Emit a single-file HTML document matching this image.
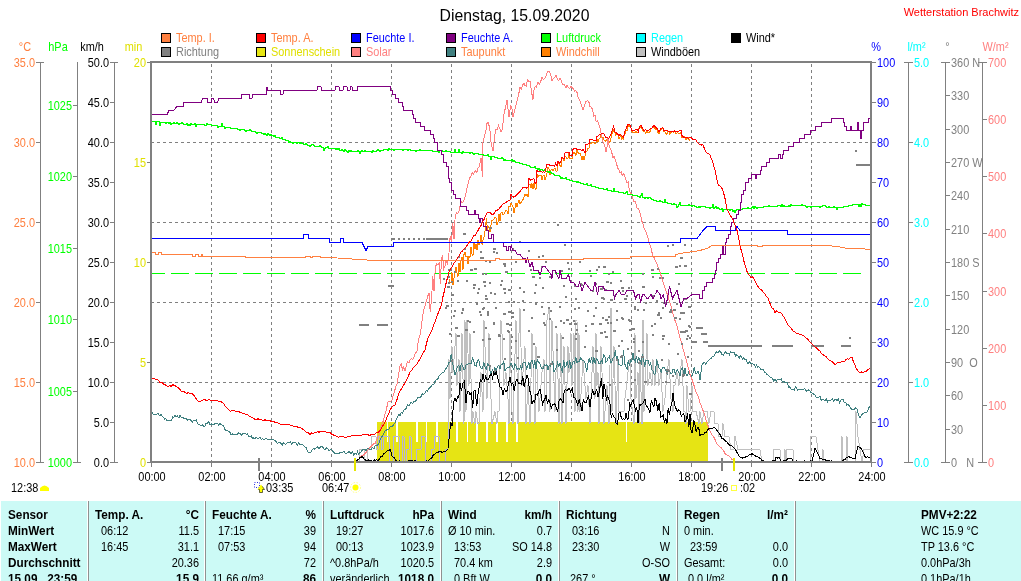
<!DOCTYPE html>
<html><head><meta charset="utf-8"><title>Dienstag, 15.09.2020</title>
<style>html,body{margin:0;padding:0;background:#fff;overflow:hidden}svg{display:block}text{white-space:pre}</style>
</head><body>
<svg width="1021" height="581" viewBox="0 0 1021 581" font-family='"Liberation Sans", Arial, sans-serif'>
<rect x="0" y="0" width="1021" height="581" fill="#FFFFFF"/>
<text transform="translate(514.5 21) scale(0.985 1)" text-anchor="middle" font-size="16" fill="#000">Dienstag, 15.09.2020</text>
<text transform="translate(1019 16) scale(1.0 1)" text-anchor="end" font-size="11" fill="#FF0000">Wetterstation Brachwitz</text>
<rect x="161" y="33" width="10" height="10" fill="#000"/>
<rect x="162" y="34" width="8" height="8" fill="#FF8040"/>
<text transform="translate(176 42) scale(0.91 1)" text-anchor="start" font-size="12" fill="#FF8040">Temp. I.</text>
<rect x="256" y="33" width="10" height="10" fill="#000"/>
<rect x="257" y="34" width="8" height="8" fill="#FF0000"/>
<text transform="translate(271 42) scale(0.91 1)" text-anchor="start" font-size="12" fill="#FF8040">Temp. A.</text>
<rect x="351" y="33" width="10" height="10" fill="#000"/>
<rect x="352" y="34" width="8" height="8" fill="#0000FF"/>
<text transform="translate(366 42) scale(0.91 1)" text-anchor="start" font-size="12" fill="#0000FF">Feuchte I.</text>
<rect x="446" y="33" width="10" height="10" fill="#000"/>
<rect x="447" y="34" width="8" height="8" fill="#800080"/>
<text transform="translate(461 42) scale(0.91 1)" text-anchor="start" font-size="12" fill="#0000FF">Feuchte A.</text>
<rect x="541" y="33" width="10" height="10" fill="#000"/>
<rect x="542" y="34" width="8" height="8" fill="#00FF00"/>
<text transform="translate(556 42) scale(0.91 1)" text-anchor="start" font-size="12" fill="#00FF00">Luftdruck</text>
<rect x="636" y="33" width="10" height="10" fill="#000"/>
<rect x="637" y="34" width="8" height="8" fill="#00FFFF"/>
<text transform="translate(651 42) scale(0.91 1)" text-anchor="start" font-size="12" fill="#00FFFF">Regen</text>
<rect x="731" y="33" width="10" height="10" fill="#000"/>
<rect x="732" y="34" width="8" height="8" fill="#000000"/>
<text transform="translate(746 42) scale(0.91 1)" text-anchor="start" font-size="12" fill="#000">Wind*</text>
<rect x="161" y="47" width="10" height="10" fill="#000"/>
<rect x="162" y="48" width="8" height="8" fill="#808080"/>
<text transform="translate(176 56) scale(0.91 1)" text-anchor="start" font-size="12" fill="#808080">Richtung</text>
<rect x="256" y="47" width="10" height="10" fill="#000"/>
<rect x="257" y="48" width="8" height="8" fill="#E6E614"/>
<text transform="translate(271 56) scale(0.91 1)" text-anchor="start" font-size="12" fill="#E0E000">Sonnenschein</text>
<rect x="351" y="47" width="10" height="10" fill="#000"/>
<rect x="352" y="48" width="8" height="8" fill="#FF8080"/>
<text transform="translate(366 56) scale(0.91 1)" text-anchor="start" font-size="12" fill="#FF8080">Solar</text>
<rect x="446" y="47" width="10" height="10" fill="#000"/>
<rect x="447" y="48" width="8" height="8" fill="#408080"/>
<text transform="translate(461 56) scale(0.91 1)" text-anchor="start" font-size="12" fill="#FF8040">Taupunkt</text>
<rect x="541" y="47" width="10" height="10" fill="#000"/>
<rect x="542" y="48" width="8" height="8" fill="#FF8000"/>
<text transform="translate(556 56) scale(0.91 1)" text-anchor="start" font-size="12" fill="#FF8040">Windchill</text>
<rect x="636" y="47" width="10" height="10" fill="#000"/>
<rect x="637" y="48" width="8" height="8" fill="#C0C0C0"/>
<text transform="translate(651 56) scale(0.91 1)" text-anchor="start" font-size="12" fill="#000">Windböen</text>
<g shape-rendering="crispEdges">
<line x1="152" y1="142.5" x2="870" y2="142.5" stroke="#808080" stroke-width="1" stroke-dasharray="3,3" stroke-dashoffset="1"/>
<line x1="152" y1="222.5" x2="870" y2="222.5" stroke="#808080" stroke-width="1" stroke-dasharray="3,3" stroke-dashoffset="1"/>
<line x1="152" y1="302.5" x2="870" y2="302.5" stroke="#808080" stroke-width="1" stroke-dasharray="3,3" stroke-dashoffset="1"/>
<line x1="152" y1="382.5" x2="870" y2="382.5" stroke="#808080" stroke-width="1" stroke-dasharray="3,3" stroke-dashoffset="1"/>
<line x1="211.5" y1="63" x2="211.5" y2="461" stroke="#808080" stroke-width="1" stroke-dasharray="3,3" stroke-dashoffset="5"/>
<line x1="271.5" y1="63" x2="271.5" y2="461" stroke="#808080" stroke-width="1" stroke-dasharray="3,3" stroke-dashoffset="5"/>
<line x1="331.5" y1="63" x2="331.5" y2="461" stroke="#808080" stroke-width="1" stroke-dasharray="3,3" stroke-dashoffset="5"/>
<line x1="391.5" y1="63" x2="391.5" y2="461" stroke="#808080" stroke-width="1" stroke-dasharray="3,3" stroke-dashoffset="5"/>
<line x1="451.5" y1="63" x2="451.5" y2="461" stroke="#808080" stroke-width="1" stroke-dasharray="3,3" stroke-dashoffset="5"/>
<line x1="511.5" y1="63" x2="511.5" y2="461" stroke="#808080" stroke-width="1" stroke-dasharray="3,3" stroke-dashoffset="5"/>
<line x1="571.5" y1="63" x2="571.5" y2="461" stroke="#808080" stroke-width="1" stroke-dasharray="3,3" stroke-dashoffset="5"/>
<line x1="631.5" y1="63" x2="631.5" y2="461" stroke="#808080" stroke-width="1" stroke-dasharray="3,3" stroke-dashoffset="5"/>
<line x1="691.5" y1="63" x2="691.5" y2="461" stroke="#808080" stroke-width="1" stroke-dasharray="3,3" stroke-dashoffset="5"/>
<line x1="751.5" y1="63" x2="751.5" y2="461" stroke="#808080" stroke-width="1" stroke-dasharray="3,3" stroke-dashoffset="5"/>
<line x1="811.5" y1="63" x2="811.5" y2="461" stroke="#808080" stroke-width="1" stroke-dasharray="3,3" stroke-dashoffset="5"/>
<line x1="152" y1="273.5" x2="862" y2="273.5" stroke="#00FF00" stroke-width="1" stroke-dasharray="18,6" stroke-dashoffset="5"/>
</g>
<g shape-rendering="crispEdges">
<rect x="377" y="422" width="331" height="40" fill="#E6E414"/>
<rect x="387" y="422" width="1" height="20" fill="#FFFFFF"/>
<rect x="396" y="422" width="1" height="20" fill="#FFFFFF"/>
<rect x="397" y="422" width="1" height="20" fill="#FFFFFF"/>
<rect x="416" y="422" width="1" height="20" fill="#FFFFFF"/>
<rect x="417" y="422" width="1" height="20" fill="#FFFFFF"/>
<rect x="426" y="422" width="1" height="20" fill="#FFFFFF"/>
<rect x="436" y="422" width="1" height="20" fill="#FFFFFF"/>
<rect x="437" y="422" width="1" height="20" fill="#FFFFFF"/>
<rect x="456" y="422" width="1" height="20" fill="#FFFFFF"/>
<rect x="457" y="422" width="1" height="20" fill="#FFFFFF"/>
<rect x="467" y="422" width="1" height="20" fill="#FFFFFF"/>
<rect x="476" y="422" width="1" height="20" fill="#FFFFFF"/>
<rect x="477" y="422" width="1" height="20" fill="#FFFFFF"/>
<rect x="486" y="422" width="1" height="20" fill="#FFFFFF"/>
<rect x="487" y="422" width="1" height="20" fill="#FFFFFF"/>
<rect x="496" y="422" width="1" height="20" fill="#FFFFFF"/>
<rect x="497" y="422" width="1" height="20" fill="#FFFFFF"/>
<rect x="506" y="422" width="1" height="20" fill="#FFFFFF"/>
<rect x="507" y="422" width="1" height="20" fill="#FFFFFF"/>
<rect x="516" y="422" width="1" height="20" fill="#FFFFFF"/>
<rect x="517" y="422" width="1" height="20" fill="#FFFFFF"/>
<rect x="626" y="422" width="1" height="20" fill="#FFFFFF"/>
</g>
<svg x="0" y="0" width="1021" height="581"><defs><clipPath id="pc"><rect x="152" y="63" width="718" height="398"/></clipPath><clipPath id="yc"><rect x="377" y="422" width="331" height="40"/></clipPath></defs><g clip-path="url(#pc)" shape-rendering="crispEdges">
<polyline points="356.0,462.5 359.0,462.5 360.0,449.5 364.0,449.5 365.0,462.5 367.0,462.5 368.0,449.5 371.0,449.5 372.0,436.5 376.0,436.5 377.0,449.5 378.0,449.5 379.0,436.5 381.0,436.5 382.0,449.5 383.0,449.5 384.0,436.5 389.0,436.5 390.0,462.5 393.0,462.5 394.0,436.5 399.0,436.5 400.0,462.5 402.0,462.5 403.0,436.5 404.0,436.5 405.0,462.5 406.0,462.5 407.0,449.5 409.0,449.5 410.0,436.5 411.0,436.5 412.0,462.5 416.0,462.5 417.0,449.5 421.0,449.5 422.0,436.5 425.0,436.5 426.0,462.5 431.0,462.5 432.0,449.5 434.0,449.5 435.0,436.5 439.0,436.5 440.0,462.5 445.0,462.5 446.0,449.5 448.0,449.5 449.0,359.5 450.0,398.5 452.0,346.5 453.0,372.5 456.0,333.5 457.0,385.5 459.0,359.5 460.0,411.5 462.0,333.5 464.0,423.5 465.0,320.5 466.0,411.5 467.0,320.5 469.0,385.5 470.0,333.5 472.0,423.5 473.0,411.5 475.0,423.5 476.0,411.5 478.0,423.5 479.0,423.5 481.0,372.5 483.0,411.5 484.0,320.5 487.0,398.5 489.0,333.5 491.0,398.5 492.0,423.5 495.0,411.5 497.0,423.5 498.0,411.5 499.0,411.5 501.0,320.5 502.0,333.5 504.0,385.5 506.0,372.5 508.0,398.5 509.0,423.5 510.0,333.5 512.0,411.5 513.0,423.5 516.0,320.5 518.0,423.5 519.0,333.5 520.0,308.5 522.0,385.5 525.0,346.5 526.0,423.5 528.0,385.5 530.0,423.5 532.0,333.5 535.0,423.5 536.0,346.5 539.0,411.5 542.0,372.5 544.0,359.5 545.0,411.5 546.0,398.5 547.0,320.5 549.0,308.5 550.0,411.5 552.0,320.5 555.0,411.5 557.0,333.5 559.0,423.5 561.0,333.5 562.0,423.5 564.0,346.5 566.0,423.5 568.0,346.5 569.0,372.5 571.0,333.5 572.0,385.5 574.0,333.5 575.0,411.5 576.0,320.5 577.0,320.5 578.0,411.5 579.0,333.5 580.0,411.5 583.0,359.5 586.0,398.5 588.0,385.5 590.0,423.5 593.0,346.5 595.0,398.5 596.0,333.5 597.0,385.5 598.0,372.5 599.0,423.5 601.0,346.5 604.0,423.5 607.0,385.5 609.0,423.5 611.0,308.5 612.0,411.5 614.0,346.5 616.0,423.5 618.0,359.5 619.0,411.5 622.0,411.5 624.0,411.5 625.0,398.5 628.0,372.5 630.0,359.5 631.0,398.5 634.0,423.5 635.0,333.5 636.0,398.5 638.0,372.5 639.0,423.5 640.0,359.5 642.0,423.5 643.0,320.5 644.0,411.5 647.0,333.5 648.0,385.5 650.0,372.5 652.0,385.5 653.0,359.5 655.0,385.5 657.0,359.5 659.0,385.5 661.0,372.5 663.0,411.5 665.0,398.5 667.0,372.5 669.0,359.5 671.0,398.5 673.0,411.5 674.0,385.5 675.0,385.5 677.0,372.5 679.0,385.5 680.0,372.5 682.0,359.5 684.0,411.5 685.0,411.5 686.0,423.5 687.0,385.5 689.0,411.5 690.0,411.5 692.0,385.5 693.0,411.5 694.0,411.5 696.0,411.5 699.0,423.5 700.0,411.5 702.0,423.5 704.0,411.5 707.0,411.5 709.0,423.5 711.0,411.5 714.0,411.5 715.0,423.5 718.0,423.5 719.0,436.5 722.0,436.5 723.0,423.5 725.0,436.5 729.0,436.5 731.0,449.5 734.0,449.5 735.0,436.5 738.0,449.5 760.0,449.5 762.0,462.5 773.0,462.5 774.0,449.5 780.0,449.5 781.0,462.5 784.0,462.5 785.0,449.5 786.0,462.5 787.0,449.5 793.0,449.5 794.0,462.5 810.0,462.5 811.0,436.5 814.0,436.5 816.0,436.5 818.0,449.5 820.0,462.5 822.0,462.5 823.0,449.5 824.0,462.5 841.0,462.5 842.0,436.5 843.0,462.5 846.0,462.5 847.0,436.5 848.0,462.5 855.0,462.5 856.0,411.5 857.0,423.5 858.0,436.5 860.0,449.5 862.0,462.5 864.0,449.5 870.0,449.5" fill="none" stroke="#C0C0C0" stroke-width="1" stroke-linejoin="miter"/>
<g clip-path="url(#yc)"><polyline points="356.0,462.5 359.0,462.5 360.0,449.5 364.0,449.5 365.0,462.5 367.0,462.5 368.0,449.5 371.0,449.5 372.0,436.5 376.0,436.5 377.0,449.5 378.0,449.5 379.0,436.5 381.0,436.5 382.0,449.5 383.0,449.5 384.0,436.5 389.0,436.5 390.0,462.5 393.0,462.5 394.0,436.5 399.0,436.5 400.0,462.5 402.0,462.5 403.0,436.5 404.0,436.5 405.0,462.5 406.0,462.5 407.0,449.5 409.0,449.5 410.0,436.5 411.0,436.5 412.0,462.5 416.0,462.5 417.0,449.5 421.0,449.5 422.0,436.5 425.0,436.5 426.0,462.5 431.0,462.5 432.0,449.5 434.0,449.5 435.0,436.5 439.0,436.5 440.0,462.5 445.0,462.5 446.0,449.5 448.0,449.5 449.0,359.5 450.0,398.5 452.0,346.5 453.0,372.5 456.0,333.5 457.0,385.5 459.0,359.5 460.0,411.5 462.0,333.5 464.0,423.5 465.0,320.5 466.0,411.5 467.0,320.5 469.0,385.5 470.0,333.5 472.0,423.5 473.0,411.5 475.0,423.5 476.0,411.5 478.0,423.5 479.0,423.5 481.0,372.5 483.0,411.5 484.0,320.5 487.0,398.5 489.0,333.5 491.0,398.5 492.0,423.5 495.0,411.5 497.0,423.5 498.0,411.5 499.0,411.5 501.0,320.5 502.0,333.5 504.0,385.5 506.0,372.5 508.0,398.5 509.0,423.5 510.0,333.5 512.0,411.5 513.0,423.5 516.0,320.5 518.0,423.5 519.0,333.5 520.0,308.5 522.0,385.5 525.0,346.5 526.0,423.5 528.0,385.5 530.0,423.5 532.0,333.5 535.0,423.5 536.0,346.5 539.0,411.5 542.0,372.5 544.0,359.5 545.0,411.5 546.0,398.5 547.0,320.5 549.0,308.5 550.0,411.5 552.0,320.5 555.0,411.5 557.0,333.5 559.0,423.5 561.0,333.5 562.0,423.5 564.0,346.5 566.0,423.5 568.0,346.5 569.0,372.5 571.0,333.5 572.0,385.5 574.0,333.5 575.0,411.5 576.0,320.5 577.0,320.5 578.0,411.5 579.0,333.5 580.0,411.5 583.0,359.5 586.0,398.5 588.0,385.5 590.0,423.5 593.0,346.5 595.0,398.5 596.0,333.5 597.0,385.5 598.0,372.5 599.0,423.5 601.0,346.5 604.0,423.5 607.0,385.5 609.0,423.5 611.0,308.5 612.0,411.5 614.0,346.5 616.0,423.5 618.0,359.5 619.0,411.5 622.0,411.5 624.0,411.5 625.0,398.5 628.0,372.5 630.0,359.5 631.0,398.5 634.0,423.5 635.0,333.5 636.0,398.5 638.0,372.5 639.0,423.5 640.0,359.5 642.0,423.5 643.0,320.5 644.0,411.5 647.0,333.5 648.0,385.5 650.0,372.5 652.0,385.5 653.0,359.5 655.0,385.5 657.0,359.5 659.0,385.5 661.0,372.5 663.0,411.5 665.0,398.5 667.0,372.5 669.0,359.5 671.0,398.5 673.0,411.5 674.0,385.5 675.0,385.5 677.0,372.5 679.0,385.5 680.0,372.5 682.0,359.5 684.0,411.5 685.0,411.5 686.0,423.5 687.0,385.5 689.0,411.5 690.0,411.5 692.0,385.5 693.0,411.5 694.0,411.5 696.0,411.5 699.0,423.5 700.0,411.5 702.0,423.5 704.0,411.5 707.0,411.5 709.0,423.5 711.0,411.5 714.0,411.5 715.0,423.5 718.0,423.5 719.0,436.5 722.0,436.5 723.0,423.5 725.0,436.5 729.0,436.5 731.0,449.5 734.0,449.5 735.0,436.5 738.0,449.5 760.0,449.5 762.0,462.5 773.0,462.5 774.0,449.5 780.0,449.5 781.0,462.5 784.0,462.5 785.0,449.5 786.0,462.5 787.0,449.5 793.0,449.5 794.0,462.5 810.0,462.5 811.0,436.5 814.0,436.5 816.0,436.5 818.0,449.5 820.0,462.5 822.0,462.5 823.0,449.5 824.0,462.5 841.0,462.5 842.0,436.5 843.0,462.5 846.0,462.5 847.0,436.5 848.0,462.5 855.0,462.5 856.0,411.5 857.0,423.5 858.0,436.5 860.0,449.5 862.0,462.5 864.0,449.5 870.0,449.5" fill="none" stroke="#B4B4DC" stroke-width="1" stroke-linejoin="miter"/></g>
<polyline points="449.0,278.9 450.0,283.1 451.0,282.2 452.0,272.5 453.0,284.8 454.0,278.0 455.0,271.3 456.0,266.8 457.0,273.0 458.0,276.8 459.0,262.8 460.0,271.9 461.0,260.0 462.0,256.8 463.0,269.6 464.0,254.6 465.0,252.4 466.0,256.6 467.0,256.2 468.0,264.1 469.0,255.8 470.0,257.5 471.0,247.2 472.0,253.7 473.0,255.6 474.0,241.7 475.0,249.1 476.0,243.6 477.0,250.2 478.0,240.3 479.0,244.8 480.0,241.9 481.0,235.0 482.1,244.6 483.2,239.4 484.2,236.7 485.3,228.7 486.4,218.3 487.5,229.4 488.8,226.7 490.0,232.0 491.0,225.0 492.0,220.4 493.0,219.8 494.0,219.2 495.0,217.4 496.0,218.1 497.0,224.6 498.0,222.3 499.0,213.8 500.0,221.0 501.0,212.8 502.0,212.0 503.0,214.6 504.0,214.1 505.0,212.3 506.0,209.8 507.0,211.1 508.0,213.6 509.0,205.8 510.0,207.0 511.0,203.3 512.0,204.8 513.0,206.9 514.0,212.9 515.0,207.8 516.0,203.3 517.0,207.2 518.0,203.0 519.0,199.9 520.0,203.7 521.0,202.4 522.0,201.0 523.0,199.6 524.0,196.7 525.0,193.8 526.0,196.3 527.0,194.4 528.0,197.1 529.0,185.2 530.0,183.8 531.0,187.9 532.0,183.6 533.0,188.7 534.0,182.9 535.0,188.2 536.0,189.6 537.0,173.9 538.0,177.4 539.0,175.6 540.0,175.7 541.0,175.5 542.0,179.8 543.0,176.2 544.0,174.8 545.0,180.3 546.0,177.3 547.0,173.1 548.0,167.0 549.0,168.6 550.0,174.5 551.0,169.9 552.0,169.2 553.0,170.5 554.0,168.9 555.0,168.1 556.0,171.1 557.0,171.0 558.0,164.2 559.0,163.5 560.0,165.4 561.0,166.6 562.0,158.6 563.0,159.2 564.0,160.8 565.0,156.6 566.0,157.0 567.0,158.8 568.0,157.9 569.0,153.4 570.0,158.5 571.0,158.6 572.0,159.0 573.0,153.5 574.0,152.6 575.0,153.3 576.0,155.5 577.0,150.3 578.0,152.6 579.0,154.0 580.0,153.3 581.0,156.1 582.0,160.0 583.0,156.0 584.0,159.8 585.0,155.9 586.0,151.9 587.0,150.8 588.0,148.2 589.0,148.2 590.0,143.0 591.0,143.4 592.0,141.9 593.0,142.6 594.0,142.0 595.0,143.4 596.0,143.1 597.0,138.7 598.0,142.2 599.0,139.1 600.0,137.8 601.0,134.9 602.0,137.8 603.0,137.1 604.0,140.4 605.0,139.9 606.0,141.4 607.0,139.3 608.0,140.7 609.0,141.4 610.0,142.5 610.8,139.6 611.5,134.5 612.5,133.7 613.5,128.7 614.2,132.6 615.0,132.7 616.0,135.4 617.0,133.3 618.0,134.7 619.0,138.8 620.0,137.2 620.9,135.1 621.8,139.4 622.6,137.5 623.5,140.3 624.2,134.9 625.0,133.6 626.0,130.1 627.0,130.8 628.0,126.5 629.0,125.7 630.0,126.5 631.0,128.0 632.0,131.6 633.0,132.3 634.0,132.4 635.0,132.6 636.0,131.3 637.0,132.8 638.0,131.9 639.0,128.1 640.0,127.6 641.0,125.8 642.0,128.8 643.0,130.5 644.0,131.3 645.0,132.0 646.0,133.4 647.0,131.1 648.0,132.4 649.0,132.8 650.0,131.7 651.0,128.7 652.0,128.1 653.0,126.7 654.0,128.3 655.0,127.8 656.0,129.8 657.0,129.3 658.0,132.6 659.0,133.7 660.0,130.3 661.0,129.8 662.0,128.6 663.0,128.1 664.0,131.5 665.0,131.7 665.9,133.6 666.9,134.2 667.9,131.1 668.9,131.4 669.8,134.4 670.8,132.4 671.8,131.8 672.8,131.7 673.7,132.3 674.7,131.0 675.7,133.8 676.6,133.5 677.6,132.1 678.6,133.5 679.6,133.6 680.5,133.3 681.5,132.0 682.0,138.2 683.0,137.0 684.0,136.5 685.0,136.7 686.0,139.4 687.0,138.6 688.0,137.6 689.0,139.7 690.0,140.2" fill="none" stroke="#FF8000" stroke-width="1" stroke-linejoin="miter"/>
<polyline points="151.0,413.3 152.1,412.2 153.2,414.1 154.4,414.8 155.5,414.4 156.6,414.1 157.8,413.2 158.9,415.0 160.0,415.4 161.1,414.4 162.3,416.2 163.4,417.6 164.6,419.0 165.7,418.8 166.9,420.3 168.0,420.7 169.2,420.0 170.3,420.5 171.5,420.0 172.7,416.8 173.8,417.7 175.0,415.6 176.2,416.8 177.5,416.0 178.8,417.8 180.0,415.6 181.2,417.2 182.5,417.3 183.8,418.3 185.0,418.0 186.2,418.8 187.5,420.0 188.8,419.3 190.0,419.5 191.2,420.8 192.5,422.2 193.8,420.0 195.0,421.2 196.2,419.8 197.5,423.5 198.8,424.5 200.0,425.2 201.2,426.1 202.5,424.6 203.8,426.6 205.0,426.0 206.2,423.1 207.5,423.1 208.8,421.9 210.0,425.0 211.2,423.5 212.5,424.9 213.8,424.8 215.0,423.0 216.2,424.0 217.5,423.5 218.8,425.1 220.0,423.3 221.2,424.8 222.5,425.1 223.8,426.6 225.0,429.8 226.2,430.3 227.5,430.9 228.8,431.7 230.0,432.2 231.2,434.8 232.5,434.0 233.8,434.3 235.0,434.8 236.2,434.8 237.5,433.9 238.8,432.8 240.0,433.6 241.2,435.2 242.5,433.9 243.8,434.0 245.0,433.3 246.2,434.2 247.5,434.0 248.8,436.9 250.0,436.6 251.2,435.6 252.5,438.8 253.8,437.9 255.0,438.7 256.2,437.1 257.5,438.4 258.8,438.4 260.0,437.5 261.2,439.6 262.5,438.5 263.8,439.3 265.0,439.1 266.2,438.6 267.5,439.4 268.8,439.5 270.0,439.0 271.2,439.4 272.5,439.7 273.8,439.8 275.0,440.5 276.2,441.4 277.5,443.6 278.8,442.4 280.0,442.6 281.2,443.7 282.4,444.8 283.5,442.4 284.7,443.7 285.9,444.3 287.1,442.6 288.2,442.4 289.4,442.7 290.6,441.8 291.8,444.3 292.9,442.8 294.1,442.4 295.3,442.2 296.5,444.0 297.6,445.1 298.8,442.6 300.0,444.4 301.2,445.0 302.5,444.7 303.8,446.0 305.0,447.1 306.2,447.9 307.5,451.4 308.8,452.6 310.0,452.4 311.2,451.7 312.5,449.4 313.8,448.3 315.0,449.3 316.2,447.8 317.5,447.0 318.8,448.6 320.0,447.4 321.2,446.4 322.5,446.6 323.8,448.7 325.0,450.0 326.2,447.9 327.5,448.3 328.8,450.6 330.0,449.9 331.2,449.0 332.3,450.6 333.5,452.2 334.7,453.2 335.8,453.0 337.0,453.9 338.1,453.0 339.3,453.1 340.4,452.6 341.6,452.4 342.7,452.5 343.9,451.4 345.0,453.1 346.2,453.3 347.5,452.7 348.8,451.7 350.0,452.2 351.2,453.6 352.5,451.9 353.8,455.1 355.0,452.9 356.2,454.4 357.5,451.6 358.8,454.4 360.0,452.6 361.2,451.6 362.5,449.7 363.8,449.8 365.0,449.6 366.2,450.8 367.5,448.1 368.8,448.2 370.0,449.8 371.2,449.5 372.5,447.5 373.8,448.9 375.0,446.1 376.2,445.4 377.5,445.3 378.8,443.5 380.0,440.3 381.2,437.6 382.5,435.8 383.8,433.3 385.0,431.1 386.2,430.4 387.3,429.2 388.5,429.9 389.7,427.3 390.8,426.1 392.0,427.2 393.1,425.5 394.3,423.7 395.4,422.2 396.6,418.7 397.7,417.0 398.9,414.1 400.0,415.6 401.2,412.3 402.5,413.6 403.8,410.3 405.0,409.2 406.2,408.6 407.5,404.9 408.8,405.7 410.0,403.9 411.2,402.4 412.5,403.5 413.8,401.8 415.0,401.5 416.2,400.2 417.5,397.9 418.8,397.6 420.0,397.8 421.2,396.2 422.5,393.5 423.8,394.6 425.0,392.9 426.2,390.5 427.5,391.1 428.8,388.9 430.0,387.7 431.2,386.5 432.5,384.5 433.8,384.2 435.0,381.5 436.2,379.4 437.5,379.8 438.8,376.3 440.0,375.1 441.2,373.8 442.5,372.7 443.8,372.4 445.0,370.1 446.2,368.1 447.5,365.9 448.8,362.9 450.0,361.8 451.2,354.2 452.5,362.1 453.8,369.0 455.0,375.0 456.2,371.2 457.5,366.7 458.8,365.4 460.0,370.7 461.2,363.7 462.5,366.0 463.8,369.5 465.0,369.0 466.2,364.7 467.5,364.8 468.8,363.4 470.0,363.3 471.2,363.4 472.5,358.2 473.8,361.1 475.0,365.7 476.2,366.0 477.5,360.4 478.8,359.8 480.0,365.9 481.2,368.0 482.5,368.1 483.8,362.6 485.0,367.0 486.2,369.1 487.5,363.7 488.8,365.3 490.0,371.4 491.2,374.8 492.5,368.8 493.8,373.9 495.0,367.6 496.2,371.1 497.5,366.4 498.8,365.0 500.0,368.5 501.2,364.7 502.5,364.5 503.8,361.8 505.0,370.7 506.2,368.5 507.5,367.9 508.8,367.7 510.0,365.8 511.2,363.2 512.4,365.7 513.5,370.3 514.7,364.2 515.9,365.9 517.1,369.2 518.2,368.4 519.4,369.1 520.6,366.3 521.8,369.3 522.9,363.0 524.1,362.3 525.3,362.6 526.5,368.8 527.6,367.1 528.8,362.1 530.0,369.0 531.2,360.3 532.4,360.7 533.6,367.8 534.8,360.5 536.0,368.9 537.2,359.4 538.4,362.4 539.6,362.6 540.8,367.0 542.0,369.0 543.2,368.7 544.4,364.2 545.6,365.5 546.8,364.5 548.0,369.8 549.2,364.9 550.4,365.9 551.6,363.9 552.8,361.2 554.0,371.6 555.2,369.4 556.4,367.7 557.6,363.0 558.8,366.5 560.0,362.7 561.2,369.5 562.4,371.8 563.6,360.1 564.8,366.7 566.1,365.7 567.3,360.6 568.5,368.1 569.7,359.9 570.9,367.8 572.1,365.0 573.3,361.3 574.5,363.0 575.8,357.2 577.0,363.3 578.2,361.3 579.4,361.4 580.6,357.8 581.8,359.7 583.0,360.7 584.2,361.0 585.5,364.5 586.7,372.3 587.9,363.3 589.1,358.4 590.3,362.9 591.5,357.5 592.7,363.9 593.9,357.5 595.2,364.3 596.4,358.4 597.6,359.8 598.8,363.3 600.0,364.1 601.2,360.1 602.4,362.3 603.5,354.3 604.7,355.5 605.9,362.2 607.1,360.9 608.2,357.8 609.4,356.3 610.6,362.5 611.8,361.8 612.9,357.9 614.1,356.9 615.3,350.2 616.5,359.9 617.6,356.0 618.8,364.3 620.0,365.1 621.2,365.6 622.4,364.5 623.5,349.6 624.7,363.8 625.9,366.9 627.1,369.4 628.2,360.6 629.4,365.5 630.6,360.1 631.8,361.7 632.9,352.9 634.1,360.0 635.3,361.6 636.5,356.4 637.6,361.2 638.8,357.5 640.0,360.4 641.2,364.9 642.4,354.5 643.5,357.7 644.7,366.9 645.9,360.6 647.1,360.6 648.2,360.2 649.4,365.5 650.6,362.9 651.8,369.8 652.9,370.5 654.1,374.2 655.3,374.0 656.5,360.5 657.6,362.8 658.8,367.9 660.0,368.6 661.2,372.7 662.4,367.3 663.5,367.6 664.7,368.1 665.9,370.8 667.1,374.2 668.2,369.1 669.4,370.6 670.6,373.1 671.8,373.9 672.9,369.6 674.1,369.6 675.3,374.2 676.5,370.8 677.6,370.0 678.8,371.9 680.0,376.2 681.2,368.8 682.5,367.3 683.8,374.7 685.0,368.1 686.2,375.6 687.5,375.9 688.8,371.7 690.0,374.5 691.5,377.1 693.0,372.7 694.2,367.5 695.5,373.5 696.8,373.0 698.0,371.4 699.0,373.6 700.0,380.0 701.0,372.1 702.0,364.8 703.3,363.1 704.7,362.2 706.0,364.4 707.3,361.6 708.7,360.2 710.0,358.7 711.2,358.5 712.5,356.3 713.8,356.5 715.0,353.7 716.5,351.8 718.0,353.2 719.3,350.8 720.7,351.8 722.0,354.7 723.2,355.2 724.5,353.1 725.8,351.3 727.0,353.6 728.2,353.1 729.4,354.6 730.6,351.8 731.8,352.6 733.0,352.9 734.2,352.4 735.5,355.9 736.8,354.7 738.0,356.2 739.2,358.0 740.3,355.4 741.5,357.1 742.7,359.3 743.8,357.6 745.0,359.9 746.2,359.8 747.3,363.0 748.5,363.2 749.7,361.7 750.8,363.8 752.0,363.0 753.1,364.1 754.3,364.2 755.4,367.0 756.6,364.9 757.7,367.2 758.9,366.6 760.0,368.3 761.1,369.8 762.3,370.0 763.4,369.7 764.6,372.3 765.7,372.0 766.9,375.0 768.0,374.9 769.2,376.4 770.3,377.2 771.5,377.7 772.7,378.8 773.8,381.2 775.0,378.9 776.2,381.7 777.5,379.4 778.8,379.6 780.0,379.6 781.2,378.8 782.5,382.6 783.8,381.5 785.0,382.3 786.2,382.1 787.3,382.9 788.5,387.0 789.7,386.8 790.8,388.9 792.0,389.4 793.1,389.0 794.3,390.3 795.4,386.7 796.6,388.1 797.7,390.1 798.9,389.0 800.0,389.8 801.2,390.0 802.4,389.0 803.7,389.4 804.9,388.6 806.1,391.2 807.3,390.7 808.6,389.9 809.8,390.6 811.0,392.4 812.3,393.3 813.7,394.2 815.0,395.0 816.2,397.0 817.5,397.0 818.8,397.3 820.0,396.2 821.2,400.2 822.5,399.7 823.8,399.6 825.0,400.6 826.2,398.3 827.5,401.8 828.8,400.3 830.0,400.4 831.2,399.9 832.5,398.5 833.8,401.5 835.0,399.5 836.1,399.7 837.3,400.6 838.4,398.7 839.6,402.6 840.7,400.1 841.9,399.8 843.0,399.5 844.2,402.2 845.5,402.1 846.8,405.2 848.0,404.3 849.2,405.8 850.5,407.8 851.8,409.3 853.0,409.5 854.3,409.3 855.7,407.9 857.0,408.6 858.5,414.7 860.0,418.0 861.5,415.0 863.0,413.6 864.5,412.7 866.0,412.4 867.3,412.0 868.7,407.5 870.0,406.7" fill="none" stroke="#408080" stroke-width="1" stroke-linejoin="miter"/>
<polyline points="357.0,461.1 358.1,459.7 359.3,458.9 360.4,457.3 361.6,455.9 362.7,455.3 363.9,454.9 365.0,453.5 366.2,452.2 367.5,450.1 368.8,449.3 370.0,447.6 371.2,446.2 372.5,444.9 373.8,443.8 375.0,443.7 376.2,440.5 377.5,437.5 378.8,434.5 380.0,430.5 381.3,426.4 382.7,422.5 384.0,418.4 385.3,413.3 386.7,408.1 388.0,401.6 389.3,401.7 390.7,401.0 392.0,400.0 393.2,395.2 394.5,391.5 395.8,386.6 397.0,383.7 398.5,375.1 400.0,366.1 401.2,363.9 402.5,369.7 403.8,366.9 405.0,370.8 406.2,366.3 407.5,361.5 408.8,363.0 410.0,360.3 411.3,358.4 412.7,359.4 414.0,357.0 415.5,353.0 417.0,351.1 418.5,339.6 420.0,335.3 421.5,325.3 423.0,313.7 424.2,308.2 425.4,304.4 426.6,299.9 427.8,296.2 429.0,292.9 430.2,311.6 431.5,299.9 432.8,276.1 434.0,291.2 435.3,267.4 436.7,263.7 438.0,265.0 439.2,262.2 440.3,284.1 441.5,258.4 442.6,256.0 443.8,268.8 444.9,266.3 446.0,260.4 447.5,263.7 449.0,252.7 450.2,235.9 451.5,242.3 452.8,222.8 454.0,239.1 455.2,216.1 456.4,212.9 457.6,213.6 458.8,212.0 460.0,205.7 461.2,201.9 462.5,202.6 463.8,201.0 465.0,197.2 466.2,192.0 467.5,186.0 468.8,180.1 470.0,177.5 471.1,175.9 472.3,172.8 473.4,174.4 474.6,172.2 475.7,170.8 476.9,172.5 478.0,168.1 479.5,166.3 481.0,157.8 482.5,176.7 483.0,141.7 484.5,136.4 486.0,130.1 487.0,123.5 488.0,122.4 489.0,125.5 490.0,131.0 491.0,142.3 492.0,147.1 493.0,150.6 494.0,142.2 495.0,134.5 496.0,129.4 497.0,130.1 498.5,125.6 500.0,129.2 501.0,132.4 502.0,130.1 503.0,122.8 504.0,113.7 505.5,107.5 507.0,100.2 508.0,109.4 509.0,116.9 510.0,110.4 511.0,105.6 512.0,109.1 513.0,117.1 514.3,112.2 515.7,106.1 517.0,101.1 518.5,95.4 520.0,86.8 521.2,89.8 522.5,85.4 523.8,83.2 525.0,85.5 526.2,86.3 527.5,79.6 528.8,81.9 530.0,81.4 531.5,91.8 533.0,99.6 534.0,90.5 535.0,86.6 536.5,87.1 538.0,81.7 539.3,84.5 540.7,81.4 542.0,77.6 543.3,79.4 544.7,78.1 546.0,76.4 547.5,71.6 549.0,71.3 550.5,74.0 552.0,80.9 553.3,78.3 554.7,77.4 556.0,75.5 557.3,79.2 558.7,80.8 560.0,78.4 561.2,80.0 562.4,84.6 563.6,84.1 564.8,85.3 566.0,87.6 567.2,85.1 568.5,87.9 569.8,88.2 571.0,86.4 572.2,87.9 573.4,88.8 574.6,91.6 575.8,90.3 577.0,92.4 578.5,98.6 580.0,100.6 581.5,105.6 583.0,110.1 584.5,105.7 586.0,101.5 587.3,100.7 588.7,101.2 590.0,106.8 591.2,107.2 592.5,109.4 593.8,115.9 595.0,114.8 596.2,121.7 597.5,121.0 598.8,124.1 600.0,128.3 601.2,133.7 602.4,140.2 603.6,143.3 604.8,145.9 606.0,152.1 607.0,146.8 608.0,137.7 609.2,146.0 610.5,149.0 611.8,152.5 613.0,158.2 614.2,156.3 615.3,160.2 616.5,163.2 617.7,168.7 618.8,169.1 620.0,173.3 621.2,171.6 622.3,175.6 623.5,173.8 624.7,175.5 625.8,179.6 627.0,182.5 628.2,181.8 629.4,190.8 630.6,193.6 631.8,193.9 633.0,199.0 634.0,201.7 635.0,200.9 636.2,204.9 637.3,208.9 638.5,208.2 639.7,211.7 640.8,216.5 642.0,221.5 643.2,224.8 644.4,229.3 645.6,231.1 646.8,234.8 648.0,237.8 649.3,243.1 650.7,247.1 652.0,252.5 653.2,256.3 654.4,257.9 655.6,261.5 656.8,263.9 658.0,266.7 659.2,269.9 660.5,273.5 661.8,278.7 663.0,282.1 664.2,285.7 665.5,289.3 666.8,293.1 668.0,295.5 669.2,300.4 670.5,304.5 671.8,308.9 673.0,313.7 674.2,317.7 675.5,322.2 676.8,325.1 678.0,330.2 679.2,334.7 680.4,339.2 681.6,343.4 682.8,348.1 684.0,351.7 685.2,356.9 686.3,360.2 687.5,364.7 688.7,369.3 689.8,373.2 691.0,376.7 692.1,379.7 693.2,383.0 694.4,386.7 695.5,390.4 696.6,393.5 697.8,395.8 698.9,399.0 700.0,402.8 701.2,405.6 702.5,409.4 703.8,412.3 705.0,416.2 706.2,420.3 707.5,424.2 708.8,427.6 710.0,430.8 711.2,433.8 712.3,435.3 713.5,436.6 714.7,438.5 715.8,442.0 717.0,444.1 718.1,445.4 719.3,446.2 720.4,447.2 721.6,448.2 722.7,449.8 723.9,451.2 725.0,453.7 726.1,454.6 727.3,455.4 728.4,455.4 729.6,456.6 730.7,457.7 731.9,459.7 733.0,459.5 734.0,461.2 735.0,461.8" fill="none" stroke="#FF8080" stroke-width="1" stroke-linejoin="miter"/>
<g><rect x="483" y="281" width="3" height="2" fill="#808080"/><rect x="651" y="269" width="3" height="2" fill="#808080"/><rect x="642" y="273" width="2" height="2" fill="#808080"/><rect x="637" y="309" width="2" height="2" fill="#808080"/><rect x="534" y="292" width="2" height="2" fill="#808080"/><rect x="670" y="309" width="2" height="2" fill="#808080"/><rect x="550" y="363" width="3" height="2" fill="#808080"/><rect x="595" y="307" width="2" height="2" fill="#808080"/><rect x="679" y="265" width="2" height="2" fill="#808080"/><rect x="448" y="282" width="2" height="2" fill="#808080"/><rect x="473" y="331" width="2" height="2" fill="#808080"/><rect x="542" y="287" width="2" height="2" fill="#808080"/><rect x="489" y="365" width="2" height="2" fill="#808080"/><rect x="461" y="312" width="2" height="2" fill="#808080"/><rect x="494" y="370" width="2" height="2" fill="#808080"/><rect x="473" y="284" width="3" height="2" fill="#808080"/><rect x="581" y="284" width="2" height="2" fill="#808080"/><rect x="662" y="335" width="3" height="2" fill="#808080"/><rect x="515" y="340" width="2" height="2" fill="#808080"/><rect x="688" y="306" width="3" height="2" fill="#808080"/><rect x="508" y="311" width="3" height="2" fill="#808080"/><rect x="443" y="278" width="2" height="2" fill="#808080"/><rect x="578" y="307" width="2" height="2" fill="#808080"/><rect x="580" y="283" width="2" height="2" fill="#808080"/><rect x="487" y="314" width="2" height="2" fill="#808080"/><rect x="528" y="330" width="2" height="2" fill="#808080"/><rect x="503" y="338" width="2" height="2" fill="#808080"/><rect x="634" y="379" width="2" height="2" fill="#808080"/><rect x="482" y="339" width="2" height="2" fill="#808080"/><rect x="543" y="313" width="2" height="2" fill="#808080"/><rect x="680" y="257" width="3" height="2" fill="#808080"/><rect x="568" y="268" width="2" height="2" fill="#808080"/><rect x="674" y="317" width="3" height="2" fill="#808080"/><rect x="641" y="356" width="3" height="2" fill="#808080"/><rect x="457" y="280" width="2" height="2" fill="#808080"/><rect x="451" y="360" width="2" height="2" fill="#808080"/><rect x="485" y="327" width="2" height="2" fill="#808080"/><rect x="685" y="330" width="3" height="2" fill="#808080"/><rect x="455" y="327" width="3" height="2" fill="#808080"/><rect x="449" y="333" width="2" height="2" fill="#808080"/><rect x="665" y="302" width="2" height="2" fill="#808080"/><rect x="591" y="323" width="3" height="2" fill="#808080"/><rect x="562" y="337" width="2" height="2" fill="#808080"/><rect x="574" y="285" width="2" height="2" fill="#808080"/><rect x="477" y="292" width="2" height="2" fill="#808080"/><rect x="678" y="283" width="2" height="2" fill="#808080"/><rect x="508" y="289" width="3" height="2" fill="#808080"/><rect x="506" y="323" width="3" height="2" fill="#808080"/><rect x="628" y="319" width="2" height="2" fill="#808080"/><rect x="466" y="280" width="2" height="2" fill="#808080"/><rect x="489" y="261" width="2" height="2" fill="#808080"/><rect x="657" y="268" width="2" height="2" fill="#808080"/><rect x="474" y="268" width="3" height="2" fill="#808080"/><rect x="662" y="307" width="2" height="2" fill="#808080"/><rect x="487" y="313" width="2" height="2" fill="#808080"/><rect x="592" y="290" width="2" height="2" fill="#808080"/><rect x="638" y="350" width="2" height="2" fill="#808080"/><rect x="541" y="306" width="2" height="2" fill="#808080"/><rect x="654" y="323" width="2" height="2" fill="#808080"/><rect x="627" y="399" width="2" height="2" fill="#808080"/><rect x="539" y="277" width="2" height="2" fill="#808080"/><rect x="644" y="381" width="3" height="2" fill="#808080"/><rect x="677" y="353" width="2" height="2" fill="#808080"/><rect x="681" y="343" width="2" height="2" fill="#808080"/><rect x="515" y="261" width="2" height="2" fill="#808080"/><rect x="458" y="256" width="2" height="2" fill="#808080"/><rect x="684" y="298" width="3" height="2" fill="#808080"/><rect x="469" y="321" width="2" height="2" fill="#808080"/><rect x="603" y="266" width="3" height="2" fill="#808080"/><rect x="567" y="262" width="2" height="2" fill="#808080"/><rect x="610" y="299" width="3" height="2" fill="#808080"/><rect x="659" y="277" width="2" height="2" fill="#808080"/><rect x="498" y="334" width="2" height="2" fill="#808080"/><rect x="511" y="312" width="3" height="2" fill="#808080"/><rect x="621" y="287" width="3" height="2" fill="#808080"/><rect x="523" y="309" width="2" height="2" fill="#808080"/><rect x="599" y="323" width="3" height="2" fill="#808080"/><rect x="485" y="295" width="2" height="2" fill="#808080"/><rect x="620" y="356" width="2" height="2" fill="#808080"/><rect x="503" y="263" width="3" height="2" fill="#808080"/><rect x="538" y="256" width="2" height="2" fill="#808080"/><rect x="482" y="257" width="2" height="2" fill="#808080"/><rect x="519" y="287" width="2" height="2" fill="#808080"/><rect x="462" y="309" width="2" height="2" fill="#808080"/><rect x="596" y="269" width="2" height="2" fill="#808080"/><rect x="687" y="356" width="2" height="2" fill="#808080"/><rect x="616" y="319" width="2" height="2" fill="#808080"/><rect x="507" y="330" width="2" height="2" fill="#808080"/><rect x="522" y="300" width="2" height="2" fill="#808080"/><rect x="665" y="381" width="2" height="2" fill="#808080"/><rect x="501" y="280" width="2" height="2" fill="#808080"/><rect x="675" y="266" width="3" height="2" fill="#808080"/><rect x="542" y="255" width="2" height="2" fill="#808080"/><rect x="607" y="322" width="2" height="2" fill="#808080"/><rect x="467" y="320" width="2" height="2" fill="#808080"/><rect x="643" y="309" width="2" height="2" fill="#808080"/><rect x="447" y="286" width="3" height="2" fill="#808080"/><rect x="616" y="310" width="2" height="2" fill="#808080"/><rect x="687" y="335" width="2" height="2" fill="#808080"/><rect x="490" y="292" width="2" height="2" fill="#808080"/><rect x="663" y="302" width="3" height="2" fill="#808080"/><rect x="573" y="320" width="2" height="2" fill="#808080"/><rect x="519" y="241" width="2" height="2" fill="#808080"/><rect x="498" y="335" width="3" height="2" fill="#808080"/><rect x="661" y="359" width="2" height="2" fill="#808080"/><rect x="550" y="310" width="2" height="2" fill="#808080"/><rect x="480" y="257" width="3" height="2" fill="#808080"/><rect x="559" y="306" width="2" height="2" fill="#808080"/><rect x="480" y="314" width="2" height="2" fill="#808080"/><rect x="662" y="338" width="2" height="2" fill="#808080"/><rect x="608" y="316" width="2" height="2" fill="#808080"/><rect x="531" y="317" width="2" height="2" fill="#808080"/><rect x="457" y="335" width="3" height="2" fill="#808080"/><rect x="482" y="308" width="2" height="2" fill="#808080"/><rect x="500" y="284" width="2" height="2" fill="#808080"/><rect x="613" y="330" width="3" height="2" fill="#808080"/><rect x="462" y="308" width="2" height="2" fill="#808080"/><rect x="622" y="290" width="2" height="2" fill="#808080"/><rect x="448" y="269" width="3" height="2" fill="#808080"/><rect x="642" y="341" width="2" height="2" fill="#808080"/><rect x="610" y="322" width="2" height="2" fill="#808080"/><rect x="682" y="374" width="3" height="2" fill="#808080"/><rect x="494" y="248" width="2" height="2" fill="#808080"/><rect x="445" y="307" width="2" height="2" fill="#808080"/><rect x="485" y="298" width="3" height="2" fill="#808080"/><rect x="602" y="317" width="2" height="2" fill="#808080"/><rect x="488" y="338" width="3" height="2" fill="#808080"/><rect x="494" y="293" width="2" height="2" fill="#808080"/><rect x="634" y="308" width="2" height="2" fill="#808080"/><rect x="667" y="245" width="2" height="2" fill="#808080"/><rect x="543" y="322" width="2" height="2" fill="#808080"/><rect x="584" y="346" width="2" height="2" fill="#808080"/><rect x="668" y="370" width="2" height="2" fill="#808080"/><rect x="626" y="295" width="2" height="2" fill="#808080"/><rect x="672" y="244" width="2" height="2" fill="#808080"/><rect x="473" y="287" width="2" height="2" fill="#808080"/><rect x="606" y="281" width="3" height="2" fill="#808080"/><rect x="628" y="287" width="2" height="2" fill="#808080"/><rect x="505" y="271" width="3" height="2" fill="#808080"/><rect x="560" y="320" width="2" height="2" fill="#808080"/><rect x="575" y="298" width="2" height="2" fill="#808080"/><rect x="587" y="310" width="2" height="2" fill="#808080"/><rect x="624" y="298" width="3" height="2" fill="#808080"/><rect x="478" y="288" width="2" height="2" fill="#808080"/><rect x="585" y="330" width="2" height="2" fill="#808080"/><rect x="657" y="314" width="3" height="2" fill="#808080"/><rect x="609" y="384" width="2" height="2" fill="#808080"/><rect x="566" y="319" width="3" height="2" fill="#808080"/><rect x="530" y="269" width="2" height="2" fill="#808080"/><rect x="656" y="300" width="2" height="2" fill="#808080"/><rect x="535" y="303" width="2" height="2" fill="#808080"/><rect x="672" y="375" width="2" height="2" fill="#808080"/><rect x="590" y="275" width="2" height="2" fill="#808080"/><rect x="504" y="358" width="2" height="2" fill="#808080"/><rect x="479" y="311" width="2" height="2" fill="#808080"/><rect x="602" y="286" width="2" height="2" fill="#808080"/><rect x="476" y="303" width="2" height="2" fill="#808080"/><rect x="612" y="271" width="2" height="2" fill="#808080"/><rect x="670" y="311" width="2" height="2" fill="#808080"/><rect x="513" y="301" width="2" height="2" fill="#808080"/><rect x="614" y="295" width="2" height="2" fill="#808080"/><rect x="689" y="326" width="2" height="2" fill="#808080"/><rect x="589" y="270" width="2" height="2" fill="#808080"/><rect x="549" y="318" width="2" height="2" fill="#808080"/><rect x="600" y="288" width="3" height="2" fill="#808080"/><rect x="600" y="332" width="3" height="2" fill="#808080"/><rect x="620" y="280" width="2" height="2" fill="#808080"/><rect x="447" y="276" width="3" height="2" fill="#808080"/><rect x="651" y="325" width="2" height="2" fill="#808080"/><rect x="528" y="250" width="2" height="2" fill="#808080"/><rect x="523" y="291" width="2" height="2" fill="#808080"/><rect x="555" y="326" width="2" height="2" fill="#808080"/><rect x="480" y="251" width="2" height="2" fill="#808080"/><rect x="579" y="261" width="2" height="2" fill="#808080"/><rect x="575" y="333" width="2" height="2" fill="#808080"/><rect x="493" y="322" width="2" height="2" fill="#808080"/><rect x="576" y="329" width="2" height="2" fill="#808080"/><rect x="503" y="313" width="3" height="2" fill="#808080"/><rect x="585" y="325" width="2" height="2" fill="#808080"/><rect x="541" y="266" width="2" height="2" fill="#808080"/><rect x="642" y="286" width="3" height="2" fill="#808080"/><rect x="451" y="294" width="3" height="2" fill="#808080"/><rect x="487" y="311" width="2" height="2" fill="#808080"/><rect x="634" y="306" width="2" height="2" fill="#808080"/><rect x="574" y="323" width="3" height="2" fill="#808080"/><rect x="605" y="336" width="3" height="2" fill="#808080"/><rect x="669" y="311" width="2" height="2" fill="#808080"/><rect x="563" y="322" width="2" height="2" fill="#808080"/><rect x="629" y="329" width="2" height="2" fill="#808080"/><rect x="509" y="324" width="3" height="2" fill="#808080"/><rect x="666" y="369" width="3" height="2" fill="#808080"/><rect x="569" y="323" width="2" height="2" fill="#808080"/><rect x="598" y="266" width="2" height="2" fill="#808080"/><rect x="622" y="318" width="2" height="2" fill="#808080"/><rect x="565" y="296" width="2" height="2" fill="#808080"/><rect x="633" y="341" width="2" height="2" fill="#808080"/><rect x="548" y="307" width="2" height="2" fill="#808080"/><rect x="483" y="307" width="2" height="2" fill="#808080"/><rect x="446" y="305" width="3" height="2" fill="#808080"/><rect x="504" y="292" width="2" height="2" fill="#808080"/><rect x="512" y="248" width="2" height="2" fill="#808080"/><rect x="561" y="270" width="2" height="2" fill="#808080"/><rect x="533" y="343" width="2" height="2" fill="#808080"/><rect x="610" y="282" width="2" height="2" fill="#808080"/><rect x="660" y="317" width="2" height="2" fill="#808080"/><rect x="581" y="405" width="2" height="2" fill="#808080"/><rect x="621" y="355" width="2" height="2" fill="#808080"/><rect x="495" y="307" width="2" height="2" fill="#808080"/><rect x="638" y="362" width="3" height="2" fill="#808080"/><rect x="684" y="265" width="3" height="2" fill="#808080"/><rect x="603" y="298" width="2" height="2" fill="#808080"/><rect x="604" y="289" width="3" height="2" fill="#808080"/><rect x="537" y="356" width="3" height="2" fill="#808080"/><rect x="454" y="271" width="2" height="2" fill="#808080"/><rect x="629" y="320" width="3" height="2" fill="#808080"/><rect x="454" y="310" width="2" height="2" fill="#808080"/><rect x="470" y="269" width="3" height="2" fill="#808080"/><rect x="658" y="312" width="2" height="2" fill="#808080"/><rect x="545" y="261" width="2" height="2" fill="#808080"/><rect x="511" y="336" width="2" height="2" fill="#808080"/><rect x="616" y="359" width="2" height="2" fill="#808080"/><rect x="557" y="224" width="2" height="2" fill="#808080"/><rect x="652" y="334" width="2" height="2" fill="#808080"/><rect x="493" y="323" width="2" height="2" fill="#808080"/><rect x="645" y="302" width="2" height="2" fill="#808080"/><rect x="682" y="375" width="2" height="2" fill="#808080"/><rect x="484" y="285" width="2" height="2" fill="#808080"/><rect x="453" y="315" width="2" height="2" fill="#808080"/><rect x="485" y="260" width="2" height="2" fill="#808080"/><rect x="652" y="295" width="2" height="2" fill="#808080"/><rect x="593" y="315" width="2" height="2" fill="#808080"/><rect x="544" y="324" width="2" height="2" fill="#808080"/><rect x="496" y="252" width="2" height="2" fill="#808080"/><rect x="627" y="348" width="2" height="2" fill="#808080"/><rect x="503" y="288" width="3" height="2" fill="#808080"/><rect x="633" y="338" width="2" height="2" fill="#808080"/><rect x="689" y="393" width="3" height="2" fill="#808080"/><rect x="556" y="349" width="2" height="2" fill="#808080"/><rect x="489" y="227" width="3" height="2" fill="#808080"/><rect x="463" y="233" width="3" height="2" fill="#808080"/><rect x="666" y="372" width="2" height="2" fill="#808080"/><rect x="595" y="283" width="2" height="2" fill="#808080"/><rect x="621" y="340" width="2" height="2" fill="#808080"/><rect x="621" y="317" width="2" height="2" fill="#808080"/><rect x="598" y="386" width="3" height="2" fill="#808080"/><rect x="465" y="329" width="3" height="2" fill="#808080"/><rect x="532" y="276" width="3" height="2" fill="#808080"/><rect x="563" y="285" width="2" height="2" fill="#808080"/><rect x="489" y="282" width="2" height="2" fill="#808080"/><rect x="517" y="357" width="2" height="2" fill="#808080"/><rect x="482" y="273" width="2" height="2" fill="#808080"/><rect x="632" y="328" width="3" height="2" fill="#808080"/><rect x="575" y="338" width="2" height="2" fill="#808080"/><rect x="668" y="343" width="2" height="2" fill="#808080"/><rect x="662" y="277" width="2" height="2" fill="#808080"/><rect x="605" y="319" width="3" height="2" fill="#808080"/><rect x="512" y="316" width="2" height="2" fill="#808080"/><rect x="595" y="350" width="3" height="2" fill="#808080"/><rect x="574" y="308" width="2" height="2" fill="#808080"/><rect x="493" y="251" width="2" height="2" fill="#808080"/><rect x="684" y="244" width="2" height="2" fill="#808080"/><rect x="676" y="303" width="2" height="2" fill="#808080"/><rect x="508" y="301" width="2" height="2" fill="#808080"/><rect x="504" y="265" width="2" height="2" fill="#808080"/><rect x="464" y="248" width="2" height="2" fill="#808080"/><rect x="652" y="276" width="2" height="2" fill="#808080"/><rect x="493" y="248" width="2" height="2" fill="#808080"/><rect x="601" y="297" width="3" height="2" fill="#808080"/><rect x="689" y="337" width="2" height="2" fill="#808080"/><rect x="549" y="276" width="2" height="2" fill="#808080"/><rect x="618" y="345" width="2" height="2" fill="#808080"/><rect x="673" y="309" width="3" height="2" fill="#808080"/><rect x="564" y="244" width="2" height="2" fill="#808080"/><rect x="608" y="273" width="2" height="2" fill="#808080"/><rect x="535" y="284" width="2" height="2" fill="#808080"/><rect x="508" y="331" width="2" height="2" fill="#808080"/><rect x="679" y="318" width="2" height="2" fill="#808080"/><rect x="604" y="331" width="2" height="2" fill="#808080"/><rect x="485" y="273" width="2" height="2" fill="#808080"/><rect x="451" y="281" width="2" height="2" fill="#808080"/><rect x="359" y="324" width="10" height="2" fill="#808080"/><rect x="377" y="324" width="11" height="2" fill="#808080"/><rect x="388" y="285" width="6" height="2" fill="#808080"/><rect x="426" y="238" width="22" height="2" fill="#808080"/><rect x="391" y="238" width="4" height="2" fill="#808080"/><rect x="856" y="164" width="14" height="2" fill="#808080"/><rect x="708" y="345" width="54" height="2" fill="#808080"/><rect x="772" y="345" width="21" height="2" fill="#808080"/><rect x="811" y="345" width="13" height="2" fill="#808080"/><rect x="841" y="345" width="10" height="2" fill="#808080"/><rect x="680" y="331" width="6" height="2" fill="#808080"/><rect x="696" y="327" width="7" height="2" fill="#808080"/><rect x="701" y="333" width="6" height="2" fill="#808080"/><rect x="691" y="341" width="6" height="2" fill="#808080"/><rect x="703" y="341" width="5" height="2" fill="#808080"/><rect x="680" y="312" width="5" height="2" fill="#808080"/><rect x="398" y="238" width="2" height="2" fill="#808080"/><rect x="403" y="238" width="2" height="2" fill="#808080"/><rect x="408" y="238" width="2" height="2" fill="#808080"/><rect x="413" y="238" width="2" height="2" fill="#808080"/><rect x="418" y="238" width="2" height="2" fill="#808080"/><rect x="423" y="238" width="2" height="2" fill="#808080"/><rect x="855" y="150" width="2" height="2" fill="#808080"/><rect x="849" y="337" width="2" height="2" fill="#808080"/><rect x="688" y="325" width="2" height="2" fill="#808080"/><rect x="686" y="338" width="2" height="2" fill="#808080"/><rect x="704" y="333" width="2" height="2" fill="#808080"/></g>
<polyline points="355.0,461.5 356.2,460.9 357.4,460.0 358.6,459.2 359.8,457.9 361.0,457.2 362.2,456.6 363.5,458.2 364.8,459.8 366.0,460.2 367.2,460.9 368.4,459.9 369.6,460.7 370.8,460.6 372.0,461.4 373.2,461.2 374.4,460.0 375.6,460.1 376.8,459.9 378.0,460.7 379.4,459.0 380.8,456.7 382.2,456.3 383.6,453.8 385.0,453.2 386.2,451.5 387.5,450.4 388.8,450.8 390.0,448.8 391.0,451.8 392.0,456.1 393.2,457.4 394.5,458.0 395.8,460.5 397.0,461.4 398.3,461.5 399.6,460.8 400.9,461.5 402.2,461.5 403.5,461.5 404.8,461.5 406.0,461.0 407.3,461.1 408.6,460.8 409.9,460.7 411.2,460.6 412.5,461.0 413.8,461.5 415.1,460.5 416.4,461.5 417.7,461.0 419.0,461.0 420.2,461.5 421.5,461.3 422.8,461.0 424.1,461.3 425.4,461.5 426.7,460.6 428.0,461.5 429.3,459.2 430.7,458.9 432.0,457.7 433.3,455.0 434.7,454.8 436.0,452.8 437.3,452.9 438.6,451.8 439.9,451.7 441.1,451.7 442.4,452.8 443.7,451.4 445.0,452.1 446.5,450.5 448.0,448.7 449.3,435.8 450.7,422.5 452.0,425.9 453.5,402.5 455.0,398.2 456.2,401.6 457.5,397.0 458.8,397.3 460.0,383.4 461.5,391.2 463.0,382.8 464.5,381.2 466.0,403.0 467.3,391.4 468.7,391.5 470.0,395.3 471.3,391.9 472.7,407.8 474.0,390.6 475.3,390.6 476.7,406.4 478.0,394.5 479.2,386.7 480.5,379.6 481.8,381.6 483.0,373.9 484.4,380.6 485.8,376.2 487.2,380.1 488.6,378.8 490.0,375.6 491.2,373.9 492.5,377.9 493.8,372.2 495.0,374.9 496.2,371.5 497.5,376.9 498.8,382.0 500.0,386.9 501.5,387.5 503.0,395.0 504.4,388.7 505.8,391.5 507.2,390.2 508.6,383.2 510.0,377.3 511.4,385.2 512.8,383.0 514.2,391.4 515.6,382.1 517.0,379.5 518.5,383.6 520.0,382.9 521.4,383.9 522.8,376.2 524.2,387.4 525.6,380.4 527.0,375.5 528.2,378.4 529.5,390.6 530.8,392.7 532.0,403.5 533.3,400.6 534.7,402.1 536.0,394.3 537.3,395.2 538.7,391.8 540.0,389.0 541.2,394.5 542.5,404.2 543.8,400.9 545.0,398.6 546.2,394.7 547.5,404.1 548.8,399.4 550.0,402.9 551.2,408.2 552.5,404.4 553.8,404.7 555.0,403.6 556.3,408.2 557.7,411.1 559.0,401.3 560.3,398.5 561.7,400.5 563.0,402.7 564.2,391.1 565.5,389.8 566.8,390.9 568.0,389.6 569.4,388.4 570.8,391.9 572.2,388.3 573.6,397.1 575.0,397.9 576.4,401.0 577.8,405.2 579.2,399.5 580.6,405.1 582.0,410.9 583.3,400.1 584.7,402.3 586.0,403.1 587.3,398.8 588.7,395.9 590.0,407.3 591.3,397.2 592.7,389.3 594.0,394.7 595.3,393.2 596.7,389.7 598.0,396.6 599.2,392.3 600.4,384.0 601.6,378.3 602.8,399.2 604.0,384.5 605.2,389.8 606.4,400.7 607.6,396.1 608.8,399.1 610.0,403.6 611.2,417.4 612.5,413.8 613.8,416.7 615.0,418.3 616.2,423.6 617.5,424.6 618.8,413.4 620.0,412.0 621.2,417.3 622.4,419.4 623.6,418.2 624.8,419.8 626.0,413.0 627.2,419.2 628.4,418.1 629.6,403.6 630.8,406.2 632.0,401.9 633.2,399.8 634.4,405.6 635.6,410.1 636.8,407.4 638.0,422.9 639.4,404.5 640.8,405.2 642.2,403.5 643.6,402.2 645.0,398.7 646.2,406.2 647.5,406.5 648.8,409.7 650.0,412.7 651.2,400.8 652.5,402.9 653.8,407.3 655.0,398.4 656.4,401.3 657.8,410.8 659.2,403.2 660.6,417.0 662.0,416.4 663.2,414.9 664.5,423.4 665.8,418.3 667.0,423.4 668.2,408.3 669.4,415.1 670.6,406.8 671.8,403.7 673.0,393.0 674.4,404.6 675.8,408.0 677.2,411.8 678.6,409.4 680.0,411.2 681.2,416.1 682.5,414.1 683.8,413.7 685.0,421.4 686.2,419.7 687.5,413.5 688.8,426.8 690.0,413.9 691.2,432.8 692.5,432.1 693.8,420.1 695.0,424.7 696.2,431.7 697.5,427.5 698.8,428.2 700.0,435.7 701.2,434.5 702.5,434.3 703.8,434.0 705.0,432.6 706.2,432.1 707.5,430.1 708.8,428.9 710.0,428.9 711.2,428.5 712.5,428.3 713.8,427.7 715.0,427.8 716.5,429.7 718.0,431.7 719.3,433.2 720.7,435.9 722.0,438.9 723.2,438.9 724.4,439.7 725.6,441.0 726.8,441.7 728.0,443.7 729.4,445.0 730.8,445.4 732.2,446.3 733.6,447.4 735.0,448.9 736.2,450.7 737.5,453.4 738.8,455.7 740.0,457.3 741.2,457.0 742.5,458.0 743.8,457.0 745.0,457.2 746.4,456.6 747.8,456.0 749.2,454.8 750.6,454.6 752.0,453.7 753.2,454.9 754.4,455.1 755.6,456.1 756.8,456.2 758.0,456.9 759.3,457.8 760.7,458.7 762.0,460.5 763.2,460.5 764.4,461.3 765.6,461.3 766.8,461.5 768.0,461.1 769.4,461.5 770.8,461.3 772.2,460.9 773.6,460.8 775.0,461.0 776.0,457.3 777.5,458.0 779.0,457.4 780.0,458.9 781.0,461.5 782.2,461.5 783.5,460.7 784.8,460.8 786.0,460.9 787.0,459.4 788.0,458.3 789.5,458.4 791.0,457.9 792.0,459.2 793.0,461.4 794.3,461.3 795.5,461.2 796.8,460.7 798.1,461.5 799.3,461.5 800.6,461.5 801.9,460.9 803.1,461.5 804.4,461.0 805.7,461.5 806.9,461.4 808.2,461.5 809.5,461.5 810.7,460.9 812.0,461.2 813.5,455.4 815.0,447.9 816.2,450.3 817.5,452.8 818.8,455.7 820.0,458.4 821.2,458.3 822.5,459.6 823.8,459.6 825.0,459.4 826.2,460.9 827.5,460.6 828.8,460.4 830.0,461.5 831.3,460.8 832.7,461.5 834.0,461.5 835.3,461.5 836.7,461.3 838.0,461.0 839.3,461.1 840.7,461.0 842.0,461.5 843.5,460.0 845.0,459.4 846.2,458.0 847.5,457.5 848.8,456.7 850.0,457.3 851.2,457.7 852.5,458.3 853.8,458.6 855.0,458.8 856.5,451.8 858.0,446.2 859.3,447.3 860.7,448.2 862.0,450.0 863.5,452.9 865.0,456.8 866.2,457.4 867.5,456.6 868.8,457.9 870.0,457.4" fill="none" stroke="#000000" stroke-width="1" stroke-linejoin="miter"/>
<polyline points="151.0,121.5 152.0,121.5 153.0,121.5 154.0,121.5 155.0,121.5 155.0,124.5 156.0,124.5 156.0,121.5 157.0,121.5 158.0,121.5 159.0,121.5 159.0,125.5 160.0,125.5 160.0,122.5 161.0,122.5 162.0,122.5 163.0,122.5 164.0,122.5 165.0,122.5 165.0,123.5 166.0,123.5 166.0,122.5 167.0,122.5 168.0,122.5 168.0,123.5 169.0,123.5 169.0,122.5 170.0,122.5 170.0,124.5 171.0,124.5 171.0,123.5 172.0,123.5 173.0,123.5 173.0,122.5 174.0,122.5 174.0,123.5 175.0,123.5 176.0,123.5 176.0,122.5 177.0,122.5 177.0,123.5 178.0,123.5 178.0,124.5 179.0,124.5 179.0,123.5 180.0,123.5 181.0,123.5 181.0,122.5 182.0,122.5 182.0,123.5 183.0,123.5 183.0,124.5 184.0,124.5 185.0,124.5 186.0,124.5 186.0,123.5 187.0,123.5 187.0,125.5 188.0,125.5 188.0,124.5 189.0,124.5 189.0,125.5 190.0,125.5 190.0,123.5 191.0,123.5 191.0,124.5 192.0,124.5 193.0,124.5 194.0,124.5 194.0,123.5 195.0,123.5 195.0,126.5 196.0,126.5 196.0,124.5 197.0,124.5 198.0,124.5 199.0,124.5 200.0,124.5 201.0,124.5 202.0,124.5 203.0,124.5 204.0,124.5 204.0,125.5 205.0,125.5 206.0,125.5 206.0,123.5 207.0,123.5 207.0,124.5 208.0,124.5 209.0,124.5 210.0,124.5 211.0,124.5 211.0,125.5 212.0,125.5 213.0,125.5 214.0,125.5 215.0,125.5 216.0,125.5 217.0,125.5 217.0,127.5 218.0,127.5 218.0,126.5 219.0,126.5 220.0,126.5 221.0,126.5 221.0,123.5 222.0,123.5 222.0,126.5 223.0,126.5 224.0,126.5 224.0,128.5 225.0,128.5 225.0,127.5 226.0,127.5 227.0,127.5 228.0,127.5 229.0,127.5 230.0,127.5 230.0,128.5 231.0,128.5 232.0,128.5 233.0,128.5 234.0,128.5 235.0,128.5 236.0,128.5 237.0,128.5 237.0,129.5 238.0,129.5 239.0,129.5 239.0,130.5 240.0,130.5 240.0,129.5 241.0,129.5 242.0,129.5 243.0,129.5 244.0,129.5 244.0,130.5 245.0,130.5 245.0,131.5 246.0,131.5 246.0,130.5 247.0,130.5 248.0,130.5 249.0,130.5 249.0,129.5 250.0,129.5 250.0,130.5 251.0,130.5 251.0,131.5 252.0,131.5 253.0,131.5 254.0,131.5 255.0,131.5 255.0,132.5 256.0,132.5 256.0,133.5 257.0,133.5 257.0,132.5 258.0,132.5 259.0,132.5 260.0,132.5 261.0,132.5 261.0,133.5 262.0,133.5 263.0,133.5 263.0,134.5 264.0,134.5 264.0,133.5 265.0,133.5 265.0,134.5 266.0,134.5 266.0,135.5 267.0,135.5 267.0,133.5 268.0,133.5 268.0,134.5 269.0,134.5 269.0,135.5 270.0,135.5 270.0,134.5 271.0,134.5 271.0,135.5 272.0,135.5 273.0,135.5 273.0,136.5 274.0,136.5 274.0,135.5 275.0,135.5 275.0,137.5 276.0,137.5 277.0,137.5 278.0,137.5 279.0,137.5 279.0,138.5 280.0,138.5 281.0,138.5 281.0,137.5 282.0,137.5 282.0,139.5 283.0,139.5 284.0,139.5 285.0,139.5 285.0,140.5 286.0,140.5 287.0,140.5 288.0,140.5 288.0,142.5 289.0,142.5 289.0,141.5 290.0,141.5 290.0,142.5 291.0,142.5 292.0,142.5 292.0,143.5 293.0,143.5 293.0,142.5 294.0,142.5 295.0,142.5 296.0,142.5 296.0,143.5 297.0,143.5 297.0,142.5 298.0,142.5 299.0,142.5 299.0,143.5 300.0,143.5 300.0,142.5 301.0,142.5 301.0,143.5 302.0,143.5 303.0,143.5 303.0,144.5 304.0,144.5 305.0,144.5 305.0,143.5 306.0,143.5 306.0,144.5 307.0,144.5 307.0,145.5 308.0,145.5 309.0,145.5 309.0,146.5 310.0,146.5 310.0,145.5 311.0,145.5 311.0,144.5 312.0,144.5 313.0,144.5 313.0,145.5 314.0,145.5 314.0,146.5 315.0,146.5 316.0,146.5 317.0,146.5 318.0,146.5 319.0,146.5 319.0,145.5 320.0,145.5 320.0,146.5 321.0,146.5 321.0,147.5 322.0,147.5 323.0,147.5 323.0,150.5 324.0,150.5 324.0,148.5 325.0,148.5 325.0,147.5 326.0,147.5 327.0,147.5 327.0,146.5 328.0,146.5 328.0,148.5 329.0,148.5 330.0,148.5 331.0,148.5 332.0,148.5 333.0,148.5 334.0,148.5 335.0,148.5 335.0,149.5 336.0,149.5 336.0,148.5 337.0,148.5 337.0,149.5 338.0,149.5 338.0,148.5 339.0,148.5 339.0,150.5 340.0,150.5 341.0,150.5 341.0,149.5 342.0,149.5 342.0,150.5 343.0,150.5 343.0,151.5 344.0,151.5 344.0,149.5 345.0,149.5 345.0,150.5 346.0,150.5 346.0,151.5 347.0,151.5 347.0,152.5 348.0,152.5 348.0,150.5 349.0,150.5 349.0,151.5 350.0,151.5 350.0,150.5 351.0,150.5 351.0,151.5 352.0,151.5 353.0,151.5 354.0,151.5 355.0,151.5 356.0,151.5 357.0,151.5 357.0,150.5 358.0,150.5 358.0,151.5 359.0,151.5 359.0,153.5 360.0,153.5 360.0,151.5 361.0,151.5 361.0,150.5 362.0,150.5 362.0,151.5 363.0,151.5 364.0,151.5 364.0,150.5 365.0,150.5 365.0,151.5 366.0,151.5 367.0,151.5 368.0,151.5 369.0,151.5 370.0,151.5 371.0,151.5 371.0,152.5 372.0,152.5 372.0,150.5 373.0,150.5 373.0,151.5 374.0,151.5 375.0,151.5 376.0,151.5 376.0,150.5 377.0,150.5 377.0,149.5 378.0,149.5 378.0,150.5 379.0,150.5 379.0,151.5 380.0,151.5 380.0,150.5 381.0,150.5 382.0,150.5 383.0,150.5 383.0,149.5 384.0,149.5 385.0,149.5 386.0,149.5 387.0,149.5 387.0,150.5 388.0,150.5 388.0,148.5 389.0,148.5 389.0,149.5 390.0,149.5 391.0,149.5 392.0,149.5 393.0,149.5 393.0,150.5 394.0,150.5 394.0,149.5 395.0,149.5 396.0,149.5 397.0,149.5 398.0,149.5 399.0,149.5 400.0,149.5 401.0,149.5 402.0,149.5 402.0,150.5 403.0,150.5 403.0,149.5 404.0,149.5 405.0,149.5 406.0,149.5 407.0,149.5 407.0,150.5 408.0,150.5 408.0,149.5 409.0,149.5 410.0,149.5 410.0,150.5 411.0,150.5 412.0,150.5 413.0,150.5 414.0,150.5 415.0,150.5 415.0,151.5 416.0,151.5 416.0,150.5 417.0,150.5 418.0,150.5 419.0,150.5 419.0,149.5 420.0,149.5 420.0,150.5 421.0,150.5 422.0,150.5 423.0,150.5 424.0,150.5 425.0,150.5 426.0,150.5 427.0,150.5 428.0,150.5 429.0,150.5 430.0,150.5 431.0,150.5 432.0,150.5 432.0,151.5 433.0,151.5 434.0,151.5 435.0,151.5 436.0,151.5 437.0,151.5 437.0,150.5 438.0,150.5 438.0,152.5 439.0,152.5 439.0,150.5 440.0,150.5 441.0,150.5 442.0,150.5 442.0,151.5 443.0,151.5 444.0,151.5 445.0,151.5 445.0,150.5 446.0,150.5 446.0,151.5 447.0,151.5 448.0,151.5 449.0,151.5 450.0,151.5 450.0,152.5 451.0,152.5 452.0,152.5 453.0,152.5 454.0,152.5 454.0,149.5 455.0,149.5 455.0,152.5 456.0,152.5 457.0,152.5 458.0,152.5 458.0,149.5 459.0,149.5 459.0,152.5 460.0,152.5 461.0,152.5 461.0,153.5 462.0,153.5 462.0,151.5 463.0,151.5 463.0,152.5 464.0,152.5 465.0,152.5 466.0,152.5 467.0,152.5 468.0,152.5 469.0,152.5 469.0,153.5 470.0,153.5 470.0,152.5 471.0,152.5 472.0,152.5 472.0,153.5 473.0,153.5 473.0,154.5 474.0,154.5 474.0,153.5 475.0,153.5 476.0,153.5 477.0,153.5 478.0,153.5 478.0,154.5 479.0,154.5 480.0,154.5 481.0,154.5 482.0,154.5 483.0,154.5 483.0,155.5 484.0,155.5 485.0,155.5 486.0,155.5 487.0,155.5 487.0,154.5 488.0,154.5 488.0,156.5 489.0,156.5 490.0,156.5 490.0,159.5 491.0,159.5 491.0,156.5 492.0,156.5 493.0,156.5 494.0,156.5 494.0,157.5 495.0,157.5 496.0,157.5 497.0,157.5 497.0,158.5 498.0,158.5 499.0,158.5 500.0,158.5 501.0,158.5 501.0,157.5 502.0,157.5 502.0,158.5 503.0,158.5 503.0,160.5 504.0,160.5 504.0,159.5 505.0,159.5 505.0,160.5 506.0,160.5 507.0,160.5 508.0,160.5 509.0,160.5 510.0,160.5 511.0,160.5 511.0,159.5 512.0,159.5 512.0,161.5 513.0,161.5 513.0,160.5 514.0,160.5 514.0,161.5 515.0,161.5 515.0,162.5 516.0,162.5 517.0,162.5 518.0,162.5 519.0,162.5 519.0,163.5 520.0,163.5 521.0,163.5 522.0,163.5 522.0,164.5 523.0,164.5 524.0,164.5 525.0,164.5 526.0,164.5 526.0,165.5 527.0,165.5 528.0,165.5 529.0,165.5 529.0,166.5 530.0,166.5 530.0,167.5 531.0,167.5 532.0,167.5 533.0,167.5 534.0,167.5 534.0,166.5 535.0,166.5 535.0,168.5 536.0,168.5 537.0,168.5 537.0,169.5 538.0,169.5 538.0,168.5 539.0,168.5 539.0,170.5 540.0,170.5 540.0,169.5 541.0,169.5 542.0,169.5 542.0,170.5 543.0,170.5 544.0,170.5 544.0,169.5 545.0,169.5 545.0,171.5 546.0,171.5 547.0,171.5 548.0,171.5 548.0,172.5 549.0,172.5 549.0,171.5 550.0,171.5 550.0,172.5 551.0,172.5 551.0,173.5 552.0,173.5 553.0,173.5 553.0,174.5 554.0,174.5 554.0,175.5 555.0,175.5 556.0,175.5 557.0,175.5 558.0,175.5 559.0,175.5 559.0,176.5 560.0,176.5 560.0,178.5 561.0,178.5 561.0,177.5 562.0,177.5 562.0,178.5 563.0,178.5 564.0,178.5 565.0,178.5 565.0,177.5 566.0,177.5 566.0,179.5 567.0,179.5 568.0,179.5 569.0,179.5 569.0,180.5 570.0,180.5 571.0,180.5 572.0,180.5 572.0,181.5 573.0,181.5 574.0,181.5 575.0,181.5 576.0,181.5 576.0,182.5 577.0,182.5 577.0,181.5 578.0,181.5 578.0,182.5 579.0,182.5 580.0,182.5 580.0,183.5 581.0,183.5 582.0,183.5 583.0,183.5 583.0,184.5 584.0,184.5 585.0,184.5 586.0,184.5 586.0,183.5 587.0,183.5 587.0,185.5 588.0,185.5 589.0,185.5 590.0,185.5 590.0,184.5 591.0,184.5 591.0,186.5 592.0,186.5 593.0,186.5 594.0,186.5 595.0,186.5 595.0,187.5 596.0,187.5 597.0,187.5 598.0,187.5 598.0,188.5 599.0,188.5 600.0,188.5 601.0,188.5 602.0,188.5 603.0,188.5 603.0,189.5 604.0,189.5 605.0,189.5 606.0,189.5 606.0,188.5 607.0,188.5 607.0,190.5 608.0,190.5 609.0,190.5 610.0,190.5 611.0,190.5 611.0,191.5 612.0,191.5 613.0,191.5 613.0,188.5 614.0,188.5 614.0,191.5 615.0,191.5 616.0,191.5 617.0,191.5 618.0,191.5 618.0,192.5 619.0,192.5 620.0,192.5 621.0,192.5 622.0,192.5 623.0,192.5 623.0,193.5 624.0,193.5 625.0,193.5 625.0,192.5 626.0,192.5 626.0,191.5 627.0,191.5 627.0,194.5 628.0,194.5 629.0,194.5 630.0,194.5 631.0,194.5 632.0,194.5 632.0,195.5 633.0,195.5 634.0,195.5 635.0,195.5 636.0,195.5 637.0,195.5 637.0,196.5 638.0,196.5 639.0,196.5 639.0,197.5 640.0,197.5 640.0,195.5 641.0,195.5 641.0,193.5 642.0,193.5 642.0,197.5 643.0,197.5 644.0,197.5 644.0,198.5 645.0,198.5 645.0,197.5 646.0,197.5 647.0,197.5 647.0,198.5 648.0,198.5 648.0,197.5 649.0,197.5 650.0,197.5 650.0,198.5 651.0,198.5 651.0,199.5 652.0,199.5 653.0,199.5 653.0,200.5 654.0,200.5 655.0,200.5 656.0,200.5 656.0,201.5 657.0,201.5 658.0,201.5 659.0,201.5 659.0,200.5 660.0,200.5 660.0,201.5 661.0,201.5 662.0,201.5 662.0,202.5 663.0,202.5 664.0,202.5 664.0,199.5 665.0,199.5 665.0,202.5 666.0,202.5 667.0,202.5 667.0,203.5 668.0,203.5 669.0,203.5 670.0,203.5 671.0,203.5 671.0,204.5 672.0,204.5 673.0,204.5 673.0,203.5 674.0,203.5 674.0,204.5 675.0,204.5 676.0,204.5 676.0,207.5 677.0,207.5 677.0,206.5 678.0,206.5 678.0,204.5 679.0,204.5 679.0,202.5 680.0,202.5 680.0,205.5 681.0,205.5 682.0,205.5 683.0,205.5 684.0,205.5 685.0,205.5 686.0,205.5 687.0,205.5 688.0,205.5 688.0,204.5 689.0,204.5 689.0,205.5 690.0,205.5 691.0,205.5 691.0,206.5 692.0,206.5 692.0,205.5 693.0,205.5 694.0,205.5 694.0,206.5 695.0,206.5 696.0,206.5 696.0,207.5 697.0,207.5 698.0,207.5 698.0,206.5 699.0,206.5 699.0,207.5 700.0,207.5 700.0,206.5 701.0,206.5 702.0,206.5 703.0,206.5 704.0,206.5 705.0,206.5 705.0,207.5 706.0,207.5 707.0,207.5 708.0,207.5 709.0,207.5 709.0,208.5 710.0,208.5 710.0,207.5 711.0,207.5 712.0,207.5 712.0,204.5 713.0,204.5 713.0,208.5 714.0,208.5 714.0,207.5 715.0,207.5 715.0,206.5 716.0,206.5 716.0,208.5 717.0,208.5 717.0,207.5 718.0,207.5 718.0,208.5 719.0,208.5 719.0,209.5 720.0,209.5 721.0,209.5 721.0,208.5 722.0,208.5 722.0,211.5 723.0,211.5 723.0,209.5 724.0,209.5 725.0,209.5 726.0,209.5 727.0,209.5 728.0,209.5 729.0,209.5 729.0,210.5 730.0,210.5 730.0,209.5 731.0,209.5 732.0,209.5 732.0,211.5 733.0,211.5 733.0,210.5 734.0,210.5 734.0,212.5 735.0,212.5 735.0,210.5 736.0,210.5 736.0,209.5 737.0,209.5 738.0,209.5 739.0,209.5 740.0,209.5 741.0,209.5 742.0,209.5 742.0,208.5 743.0,208.5 744.0,208.5 745.0,208.5 746.0,208.5 747.0,208.5 747.0,207.5 748.0,207.5 748.0,208.5 749.0,208.5 750.0,208.5 751.0,208.5 751.0,207.5 752.0,207.5 752.0,206.5 753.0,206.5 753.0,208.5 754.0,208.5 754.0,206.5 755.0,206.5 755.0,207.5 756.0,207.5 756.0,208.5 757.0,208.5 757.0,207.5 758.0,207.5 759.0,207.5 760.0,207.5 761.0,207.5 762.0,207.5 763.0,207.5 763.0,206.5 764.0,206.5 765.0,206.5 766.0,206.5 767.0,206.5 768.0,206.5 768.0,205.5 769.0,205.5 769.0,206.5 770.0,206.5 771.0,206.5 772.0,206.5 773.0,206.5 774.0,206.5 775.0,206.5 776.0,206.5 777.0,206.5 777.0,205.5 778.0,205.5 779.0,205.5 780.0,205.5 780.0,206.5 781.0,206.5 781.0,204.5 782.0,204.5 782.0,206.5 783.0,206.5 783.0,205.5 784.0,205.5 784.0,206.5 785.0,206.5 786.0,206.5 787.0,206.5 788.0,206.5 788.0,205.5 789.0,205.5 789.0,206.5 790.0,206.5 790.0,204.5 791.0,204.5 791.0,205.5 792.0,205.5 793.0,205.5 794.0,205.5 795.0,205.5 796.0,205.5 797.0,205.5 798.0,205.5 799.0,205.5 800.0,205.5 801.0,205.5 801.0,204.5 802.0,204.5 802.0,205.5 803.0,205.5 804.0,205.5 805.0,205.5 805.0,206.5 806.0,206.5 806.0,207.5 807.0,207.5 807.0,206.5 808.0,206.5 809.0,206.5 810.0,206.5 810.0,207.5 811.0,207.5 811.0,206.5 812.0,206.5 813.0,206.5 814.0,206.5 815.0,206.5 816.0,206.5 817.0,206.5 818.0,206.5 819.0,206.5 819.0,207.5 820.0,207.5 820.0,206.5 821.0,206.5 822.0,206.5 822.0,205.5 823.0,205.5 824.0,205.5 825.0,205.5 825.0,206.5 826.0,206.5 826.0,207.5 827.0,207.5 828.0,207.5 828.0,206.5 829.0,206.5 829.0,207.5 830.0,207.5 831.0,207.5 832.0,207.5 833.0,207.5 833.0,206.5 834.0,206.5 834.0,207.5 835.0,207.5 836.0,207.5 836.0,209.5 837.0,209.5 837.0,207.5 838.0,207.5 839.0,207.5 840.0,207.5 841.0,207.5 842.0,207.5 843.0,207.5 843.0,206.5 844.0,206.5 845.0,206.5 846.0,206.5 847.0,206.5 848.0,206.5 848.0,205.5 849.0,205.5 850.0,205.5 851.0,205.5 852.0,205.5 852.0,204.5 853.0,204.5 854.0,204.5 855.0,204.5 856.0,204.5 857.0,204.5 858.0,204.5 858.0,206.5 859.0,206.5 859.0,204.5 860.0,204.5 860.0,206.5 861.0,206.5 861.0,203.5 862.0,203.5 862.0,204.5 863.0,204.5 864.0,204.5 865.0,204.5 865.0,205.5 866.0,205.5 867.0,205.5 868.0,205.5 869.0,205.5 870.0,205.5" fill="none" stroke="#00FF00" stroke-width="1" stroke-linejoin="miter"/>
<polyline points="151.5,120.0 151.5,114.5 167.0,114.5 169.0,110.5 173.5,110.5 177.0,106.5 183.5,106.5 183.5,102.5 201.5,102.5 202.5,98.5 207.5,98.5 207.5,102.5 211.5,102.5 212.0,98.5 213.5,98.5 215.0,102.5 217.5,102.5 219.0,98.5 241.5,98.5 241.5,94.5 249.0,94.5 250.0,98.5 252.0,98.5 253.0,94.5 266.5,94.5 267.0,87.0 268.0,90.5 280.0,90.5 281.0,94.5 283.0,94.5 284.0,90.5 317.0,90.5 317.5,86.5 321.0,86.5 321.5,90.5 335.0,90.5 336.0,86.5 339.0,86.5 339.5,90.5 343.0,90.5 343.5,86.5 347.0,86.5 347.5,90.5 350.0,90.5 350.5,86.5 352.0,86.5 352.5,90.5 357.5,90.5 358.0,86.5 388.0,86.5 389.3,86.5 390.7,86.5 390.7,90.5 392.0,90.5 392.0,94.5 393.5,94.5 395.0,94.5 395.0,98.5 396.0,98.5 397.0,98.5 398.5,98.5 398.5,102.5 400.0,102.5 402.0,102.5 402.0,106.5 403.5,106.5 403.5,110.5 405.0,110.5 406.5,110.5 408.0,110.5 409.3,110.5 410.7,110.5 412.0,110.5 412.0,114.5 413.5,114.5 413.5,118.5 415.0,118.5 415.0,122.5 416.5,122.5 418.0,122.5 419.3,122.5 420.7,122.5 420.7,126.5 422.0,126.5 423.3,126.5 424.7,126.5 424.7,130.5 426.0,130.5 427.3,130.5 428.7,130.5 430.0,130.5 430.0,134.5 431.5,134.5 433.0,134.5 433.0,138.5 434.5,138.5 434.5,142.5 436.0,142.5 437.3,142.5 437.3,150.5 438.7,150.5 440.0,150.5 441.5,150.5 441.5,154.5 443.0,154.5 443.0,162.5 444.5,162.5 446.0,162.5 446.0,166.5 448.0,166.5 448.0,178.5 449.5,178.5 449.5,182.5 451.0,182.5 451.0,190.5 452.3,190.5 453.7,190.5 453.7,194.5 455.0,194.5 455.0,198.5 456.5,198.5 458.0,198.5 460.0,198.5 460.0,206.5 461.7,206.5 463.3,206.5 465.0,206.5 466.7,206.5 466.7,210.5 468.3,210.5 468.3,214.5 470.0,214.5 471.3,214.5 472.7,214.5 474.0,214.5 474.0,210.5 475.3,210.5 475.3,214.5 476.7,214.5 478.0,214.5 478.0,218.5 479.3,218.5 479.3,222.5 480.7,222.5 480.7,218.5 482.0,218.5 482.0,222.5 483.5,222.5 483.5,226.5 485.0,226.5 486.7,226.5 486.7,230.5 488.3,230.5 488.3,238.5 490.0,238.5 491.7,238.5 491.7,234.5 493.3,234.5 493.3,242.5 495.0,242.5 496.7,242.5 498.3,242.5 500.0,242.5 501.7,242.5 503.3,242.5 503.3,246.5 505.0,246.5 506.7,246.5 506.7,250.5 508.3,250.5 508.3,246.5 510.0,246.5 510.0,250.5 511.5,246.5 513.0,250.5 515.0,250.5 517.5,254.5 520.0,254.5 523.0,258.5 525.0,258.5 526.0,262.5 527.5,258.5 530.0,266.5 532.0,262.5 534.0,270.5 536.0,270.5 538.5,270.5 539.5,274.5 540.5,274.5 542.5,266.5 545.0,266.5 548.0,270.5 551.0,274.5 552.0,278.5 553.0,270.5 555.5,270.5 556.5,274.5 559.0,278.5 560.0,270.5 562.0,278.5 564.5,278.5 566.0,278.5 568.5,274.5 570.5,282.5 571.5,282.5 573.5,282.5 576.5,286.5 578.5,286.5 579.5,282.5 582.0,290.5 585.0,282.5 588.0,286.5 591.0,290.5 592.0,290.5 593.0,290.5 595.0,282.5 597.5,294.5 599.0,286.5 600.0,286.5 603.0,286.5 605.0,290.5 607.0,290.5 608.0,290.5 610.0,290.5 611.5,290.5 613.0,290.5 614.5,298.5 616.0,294.5 619.0,290.5 621.5,294.5 624.5,294.5 627.0,290.5 629.0,290.5 631.0,290.5 633.5,290.5 635.5,298.5 637.5,294.5 639.5,294.5 640.5,302.5 641.5,298.5 642.5,294.5 644.0,294.5 647.0,298.5 648.0,298.5 651.0,294.5 653.0,298.5 655.5,294.5 657.0,290.5 660.0,294.5 661.0,298.5 663.5,294.5 665.5,306.5 667.5,298.5 669.5,286.5 672.5,298.5 674.5,294.5 677.0,290.5 679.0,298.5 681.0,306.5 684.0,298.5 687.0,298.5 692.0,294.5 693.5,294.5 695.0,294.5 696.5,294.5 698.0,294.5 699.0,294.5 699.0,298.5 701.0,298.5 702.0,298.5 702.0,290.5 704.0,290.5 704.0,286.5 705.3,286.5 706.7,286.5 706.7,282.5 708.0,282.5 709.5,282.5 711.0,282.5 712.0,282.5 712.0,278.5 714.0,278.5 714.0,274.5 715.0,274.5 715.0,270.5 716.0,270.5 716.0,262.5 718.0,262.5 718.0,258.5 720.0,258.5 720.0,254.5 722.0,254.5 722.0,246.5 723.0,246.5 723.0,254.5 725.0,254.5 725.0,242.5 726.5,242.5 726.5,238.5 728.0,238.5 728.0,234.5 730.0,234.5 730.0,226.5 731.7,226.5 731.7,222.5 733.3,222.5 733.3,218.5 735.0,218.5 736.5,218.5 736.5,214.5 738.0,214.5 738.0,210.5 740.0,210.5 740.0,202.5 741.5,202.5 741.5,194.5 743.0,194.5 743.0,190.5 745.0,190.5 745.0,182.5 746.7,182.5 748.3,182.5 748.3,178.5 750.0,178.5 751.5,178.5 751.5,174.5 753.0,174.5 755.0,174.5 755.0,178.5 756.5,178.5 756.5,174.5 758.0,174.5 760.0,174.5 760.0,170.5 761.5,170.5 761.5,166.5 763.0,166.5 764.5,166.5 766.0,166.5 766.0,162.5 767.5,162.5 769.0,162.5 769.0,158.5 770.5,158.5 772.0,158.5 773.5,158.5 775.0,158.5 776.5,158.5 778.0,158.5 778.0,158.5 778.0,154.5 780.0,154.5 780.0,158.5 782.0,158.5 782.0,154.5 783.5,154.5 783.5,150.5 785.0,150.5 786.7,150.5 788.3,150.5 788.3,146.5 790.0,146.5 791.5,146.5 793.0,146.5 793.0,142.5 794.5,142.5 796.0,142.5 797.7,142.5 799.3,142.5 799.3,138.5 801.0,138.5 802.7,138.5 804.3,138.5 804.3,134.5 806.0,134.5 807.4,134.5 808.8,134.5 810.2,134.5 810.2,130.5 811.6,130.5 813.0,130.5 814.3,130.5 815.7,130.5 815.7,126.5 817.0,126.5 818.4,126.5 819.9,126.5 821.3,126.5 821.3,122.5 822.7,122.5 824.1,122.5 825.6,122.5 827.0,122.5 828.4,122.5 829.8,122.5 831.2,122.5 831.2,118.5 832.6,118.5 834.0,118.5 835.5,118.5 837.0,118.5 838.5,118.5 840.0,118.5 841.5,118.5 843.0,118.5 843.0,122.5 844.5,122.5 844.5,126.5 846.0,126.5 846.0,130.5 847.3,130.5 848.7,130.5 850.0,130.5 850.0,126.5 851.5,126.5 851.5,130.5 853.0,130.5 854.3,130.5 855.7,130.5 857.0,130.5 857.0,122.5 858.5,122.5 858.5,130.5 860.0,130.5 860.0,138.5 861.5,138.5 861.5,130.5 863.0,130.5 863.0,122.5 864.7,122.5 866.3,122.5 868.0,122.5 868.0,118.5 870.0,118.5" fill="none" stroke="#800080" stroke-width="1" stroke-linejoin="miter"/>
<polyline points="151.0,238.5 303.0,238.5 303.0,234.5 308.0,234.5 308.0,238.5 329.0,238.5 330.0,242.5 340.0,242.5 340.0,238.5 343.0,238.5 343.0,242.5 362.0,242.5 366.0,250.5 368.0,246.5 393.0,246.5 393.0,242.5 680.0,242.5 680.0,238.5 697.0,238.5 700.0,234.5 703.0,230.5 707.0,226.5 715.0,226.5 716.0,230.5 735.0,230.5 737.0,226.5 740.0,230.5 787.0,230.5 788.0,234.5 870.0,234.5" fill="none" stroke="#0000FF" stroke-width="1" stroke-linejoin="miter"/>
<polyline points="151.0,376.6 152.5,378.5 154.0,378.0 155.5,379.7 157.0,379.5 158.5,380.6 160.0,382.6 161.6,382.3 163.2,383.9 164.8,384.6 166.4,385.6 168.0,386.6 169.7,385.7 171.3,386.3 173.0,384.7 174.4,385.7 175.8,386.1 177.2,387.2 178.6,388.1 180.0,389.6 182.0,391.8 183.6,391.7 185.1,392.2 186.7,393.6 188.3,392.4 189.9,393.6 191.4,393.5 193.0,394.3 194.7,396.1 196.3,399.0 198.0,401.0 199.4,401.0 200.8,401.2 202.2,400.5 203.6,399.6 205.0,399.3 206.4,400.7 207.9,400.0 209.3,399.5 210.7,400.7 212.1,400.1 213.6,400.4 215.0,400.6 216.4,400.1 217.8,400.7 219.2,402.0 220.6,401.3 222.0,402.7 223.6,403.3 225.2,406.0 226.8,407.7 228.4,409.7 230.0,411.2 231.4,410.9 232.9,410.6 234.3,410.7 235.7,411.5 237.1,411.6 238.6,411.1 240.0,412.6 241.5,412.7 243.0,413.7 244.5,413.7 246.0,414.4 247.5,414.7 249.0,415.9 250.5,416.5 252.0,417.5 253.5,418.1 255.0,419.5 256.4,419.8 257.9,418.8 259.3,419.3 260.8,419.1 262.2,420.0 263.7,420.7 265.1,419.6 266.6,420.7 268.0,420.1 269.6,420.1 271.1,421.8 272.7,421.6 274.2,421.8 275.8,422.7 277.3,422.8 278.9,423.6 280.4,424.1 282.0,424.6 283.5,425.0 285.0,424.7 286.5,424.6 288.0,424.7 289.5,424.9 291.0,425.8 292.5,425.7 294.0,426.6 295.5,426.2 297.0,426.7 298.4,428.0 299.9,427.4 301.3,428.2 302.8,429.2 304.2,430.4 305.7,431.6 307.1,432.7 308.6,432.9 310.0,434.7 311.5,432.8 313.0,433.7 314.5,432.3 316.0,433.0 317.5,431.2 319.0,432.3 320.5,431.5 322.0,431.5 323.6,431.3 325.2,431.1 326.8,432.8 328.4,432.4 330.0,432.3 331.4,434.0 332.8,434.6 334.2,435.4 335.6,435.6 337.0,436.4 338.6,437.1 340.2,436.9 341.8,436.4 343.4,436.9 345.0,437.4 346.5,437.2 348.0,436.6 349.5,436.3 351.0,436.1 352.5,435.7 354.0,435.5 355.5,435.7 357.0,435.0 358.5,435.8 360.0,435.6 361.5,435.4 363.0,434.3 364.5,434.8 366.0,434.8 367.5,434.1 369.0,435.4 370.5,435.0 372.0,434.5 373.5,434.7 375.0,433.8 376.5,432.9 378.0,432.4 379.7,430.8 381.3,428.6 383.0,425.6 384.4,423.2 385.8,420.3 387.2,416.6 388.6,413.6 390.0,410.3 391.7,407.5 393.3,406.0 395.0,404.8 396.7,400.6 398.3,394.8 400.0,390.9 401.7,388.4 403.3,385.4 405.0,383.2 406.7,380.1 408.3,376.3 410.0,371.9 411.7,370.7 413.3,367.6 415.0,365.8 416.7,364.4 418.3,361.9 420.0,358.7 421.7,355.4 423.3,352.7 425.0,349.8 426.5,343.5 428.0,337.9 429.3,335.2 430.7,332.9 432.0,330.2 433.6,325.4 435.2,321.1 436.8,316.8 438.4,312.4 440.0,308.5 441.5,304.6 443.0,296.5 444.5,290.6 446.0,283.6 447.5,277.6 449.0,272.2 450.5,269.0 452.0,267.0 453.5,264.0 455.0,262.0 456.4,260.0 457.9,257.2 459.3,255.3 460.7,252.2 462.1,251.3 463.6,249.1 465.0,248.1 466.4,246.2 467.9,244.1 469.3,241.9 470.7,241.5 472.1,238.6 473.6,235.8 475.0,236.0 476.5,232.9 478.0,230.5 479.5,227.6 481.0,225.5 482.6,222.1 484.2,219.1 485.9,215.3 487.5,212.3 488.8,213.1 490.0,211.9 491.5,214.1 493.0,214.8 494.5,213.0 496.0,210.0 497.3,210.1 498.7,209.3 500.0,207.5 501.7,205.6 503.3,203.8 505.0,203.2 506.7,201.7 508.3,200.9 510.0,200.4 511.0,194.3 513.0,197.3 514.7,196.4 516.3,195.5 518.0,193.3 520.0,191.6 521.5,189.6 523.0,187.1 524.7,187.5 526.3,188.1 528.0,186.8 529.0,178.4 530.7,180.0 532.3,179.6 534.0,178.6 535.0,182.6 536.0,183.5 537.0,169.7 538.0,172.2 539.4,171.3 540.8,171.2 542.2,172.3 543.6,171.7 545.0,172.3 547.0,164.2 549.0,164.6 550.0,165.8 551.4,165.8 552.8,165.2 554.2,166.4 555.6,163.4 557.0,166.0 558.0,160.7 559.5,163.5 561.0,161.5 562.0,157.1 564.0,158.6 565.0,152.6 566.3,152.7 567.7,152.5 569.0,152.2 570.0,155.7 572.0,155.6 573.0,149.4 574.4,148.4 575.8,148.3 577.2,149.5 578.6,149.2 580.0,149.7 582.0,150.3 583.5,149.5 585.0,153.1 586.0,144.1 587.5,144.2 589.0,143.8 590.0,139.1 591.5,139.3 593.0,140.0 594.5,140.4 596.0,140.7 597.0,136.6 598.5,135.9 600.0,134.1 601.5,134.0 603.0,133.4 604.0,133.8 605.5,137.3 607.0,137.4 608.5,138.5 610.0,136.4 611.5,132.9 613.5,126.4 615.0,131.9 617.0,133.4 619.0,135.6 620.0,133.7 621.8,135.7 623.5,137.1 625.0,131.4 626.5,127.9 628.0,124.1 630.0,124.7 632.0,130.4 633.7,130.4 635.3,129.9 637.0,129.3 638.3,131.6 639.7,126.0 641.0,125.4 642.5,128.4 644.0,130.5 645.7,129.8 647.3,130.3 649.0,130.2 650.5,128.6 652.0,128.0 654.0,125.2 655.7,127.2 657.3,129.0 659.0,131.6 661.0,128.4 663.0,127.7 664.0,130.5 665.5,130.2 666.9,130.8 668.4,131.0 669.8,131.0 671.3,131.2 672.8,131.8 674.2,130.9 675.7,131.7 677.1,131.3 678.6,131.0 680.0,130.8 681.5,131.0 682.0,135.4 683.6,137.1 685.2,137.1 686.8,137.6 688.4,138.3 690.0,137.8 691.5,137.8 693.0,139.6 694.5,139.5 696.0,140.1 697.5,142.6 699.0,144.2 700.3,144.2 701.7,145.1 703.0,144.8 704.5,148.8 706.0,152.3 707.3,153.4 708.7,154.0 710.0,155.0 711.5,158.9 713.0,163.0 715.0,170.3 716.5,177.4 718.0,184.1 719.3,185.7 720.7,186.6 722.0,188.4 723.5,192.5 725.0,198.4 727.0,208.7 728.5,212.0 730.0,214.8 731.5,217.5 733.0,219.9 734.3,223.5 735.7,227.1 737.0,230.4 738.5,237.7 740.0,245.4 741.5,251.6 743.0,256.9 744.3,262.9 745.7,266.4 747.0,271.4 748.3,273.9 749.7,275.7 751.0,278.0 753.0,276.6 754.3,279.4 755.7,282.7 757.0,285.2 758.7,287.5 760.3,289.1 762.0,290.6 763.5,292.3 765.0,294.3 766.5,296.5 768.0,298.0 769.5,302.1 771.0,306.0 772.3,308.4 773.7,309.1 775.0,312.4 776.7,310.9 778.3,312.3 780.0,312.5 781.5,313.3 783.0,315.8 784.3,317.7 785.7,320.2 787.0,323.1 788.7,325.7 790.3,327.2 792.0,329.6 793.5,331.6 795.0,331.9 796.5,333.3 798.0,333.2 799.6,334.9 801.2,334.5 802.8,335.2 804.4,336.1 806.0,337.9 807.5,338.8 809.0,340.8 810.5,342.3 812.0,343.8 813.5,345.6 815.0,346.9 816.5,347.8 818.0,349.7 819.7,350.6 821.3,353.2 823.0,354.7 824.7,355.8 826.3,356.7 828.0,359.1 829.4,360.1 830.8,361.1 832.2,361.7 833.6,363.1 835.0,364.5 836.6,363.5 838.2,362.0 839.8,362.5 841.4,362.0 843.0,361.4 844.5,361.4 846.0,359.4 847.5,358.7 849.0,359.3 850.5,357.7 852.0,357.1 853.3,361.4 854.7,363.9 856.0,367.9 857.3,369.8 858.7,371.6 860.0,373.2 861.7,371.9 863.3,372.6 865.0,371.6 866.7,370.9 868.3,369.4 870.0,368.2" fill="none" stroke="#FF0000" stroke-width="1" stroke-linejoin="miter"/>
<polyline points="151.0,252.5 155.0,252.5 156.0,254.5 158.0,254.5 159.0,252.5 161.0,252.5 162.0,254.5 166.0,254.5 192.0,254.5 193.0,256.5 195.0,256.5 196.0,254.5 198.0,254.5 199.0,256.5 201.0,256.5 202.0,254.5 203.0,256.5 245.0,256.5 246.0,257.5 305.0,257.5 306.0,256.5 310.0,256.5 311.0,257.5 314.0,256.5 320.0,256.5 321.0,257.5 330.0,257.5 352.0,259.0 375.0,260.5 495.0,260.5 496.0,258.5 499.0,258.5 500.0,259.5 583.0,259.5 584.0,258.0 588.0,258.0 589.0,258.0 630.0,258.0 631.0,256.5 675.0,256.5 676.0,254.5 680.0,253.5 690.0,252.0 700.0,250.5 708.0,248.0 712.0,245.5 757.0,245.5 758.0,246.5 762.0,246.5 763.0,245.5 830.0,245.5 834.0,246.5 840.0,247.0 845.0,248.0 860.0,248.5 870.0,249.5" fill="none" stroke="#FF8040" stroke-width="1" stroke-linejoin="miter"/>
</g></svg>
<g shape-rendering="crispEdges">
<rect x="150" y="61" width="722" height="2" fill="#808080"/>
<rect x="150" y="461" width="722" height="2" fill="#808080"/>
<rect x="150" y="61" width="2" height="402" fill="#808080"/>
<rect x="870" y="61" width="2" height="402" fill="#808080"/>
<rect x="151" y="463" width="1" height="4" fill="#808080"/>
<rect x="211" y="463" width="1" height="4" fill="#808080"/>
<rect x="271" y="463" width="1" height="4" fill="#808080"/>
<rect x="331" y="463" width="1" height="4" fill="#808080"/>
<rect x="391" y="463" width="1" height="4" fill="#808080"/>
<rect x="451" y="463" width="1" height="4" fill="#808080"/>
<rect x="511" y="463" width="1" height="4" fill="#808080"/>
<rect x="571" y="463" width="1" height="4" fill="#808080"/>
<rect x="631" y="463" width="1" height="4" fill="#808080"/>
<rect x="691" y="463" width="1" height="4" fill="#808080"/>
<rect x="751" y="463" width="1" height="4" fill="#808080"/>
<rect x="811" y="463" width="1" height="4" fill="#808080"/>
<rect x="871" y="463" width="1" height="4" fill="#808080"/>
</g>
<g shape-rendering="crispEdges">
<rect x="40" y="62" width="1" height="401" fill="#808080"/>
<rect x="36" y="62" width="8" height="1" fill="#808080"/>
<rect x="36" y="142" width="4" height="1" fill="#808080"/>
<rect x="36" y="222" width="4" height="1" fill="#808080"/>
<rect x="36" y="302" width="4" height="1" fill="#808080"/>
<rect x="36" y="382" width="4" height="1" fill="#808080"/>
<rect x="36" y="462" width="4" height="1" fill="#808080"/>
<rect x="36" y="462" width="8" height="1" fill="#808080"/>
<rect x="77" y="62" width="1" height="401" fill="#808080"/>
<rect x="73" y="105" width="4" height="1" fill="#808080"/>
<rect x="73" y="176" width="4" height="1" fill="#808080"/>
<rect x="73" y="248" width="4" height="1" fill="#808080"/>
<rect x="73" y="319" width="4" height="1" fill="#808080"/>
<rect x="73" y="391" width="4" height="1" fill="#808080"/>
<rect x="73" y="462" width="4" height="1" fill="#808080"/>
<rect x="73" y="462" width="8" height="1" fill="#808080"/>
<rect x="114" y="62" width="1" height="401" fill="#808080"/>
<rect x="110" y="62" width="8" height="1" fill="#808080"/>
<rect x="110" y="102" width="4" height="1" fill="#808080"/>
<rect x="110" y="142" width="4" height="1" fill="#808080"/>
<rect x="110" y="182" width="4" height="1" fill="#808080"/>
<rect x="110" y="222" width="4" height="1" fill="#808080"/>
<rect x="110" y="262" width="4" height="1" fill="#808080"/>
<rect x="110" y="302" width="4" height="1" fill="#808080"/>
<rect x="110" y="342" width="4" height="1" fill="#808080"/>
<rect x="110" y="382" width="4" height="1" fill="#808080"/>
<rect x="110" y="422" width="4" height="1" fill="#808080"/>
<rect x="110" y="462" width="4" height="1" fill="#808080"/>
<rect x="110" y="462" width="8" height="1" fill="#808080"/>
<rect x="147" y="62" width="3" height="1" fill="#808080"/>
<rect x="147" y="162" width="3" height="1" fill="#808080"/>
<rect x="147" y="262" width="3" height="1" fill="#808080"/>
<rect x="147" y="362" width="3" height="1" fill="#808080"/>
<rect x="147" y="462" width="3" height="1" fill="#808080"/>
<rect x="147" y="462" width="3" height="1" fill="#808080"/>
<rect x="872" y="62" width="4" height="1" fill="#808080"/>
<rect x="872" y="102" width="4" height="1" fill="#808080"/>
<rect x="872" y="142" width="4" height="1" fill="#808080"/>
<rect x="872" y="182" width="4" height="1" fill="#808080"/>
<rect x="872" y="222" width="4" height="1" fill="#808080"/>
<rect x="872" y="262" width="4" height="1" fill="#808080"/>
<rect x="872" y="302" width="4" height="1" fill="#808080"/>
<rect x="872" y="342" width="4" height="1" fill="#808080"/>
<rect x="872" y="382" width="4" height="1" fill="#808080"/>
<rect x="872" y="422" width="4" height="1" fill="#808080"/>
<rect x="872" y="462" width="4" height="1" fill="#808080"/>
<rect x="908" y="62" width="1" height="401" fill="#808080"/>
<rect x="904" y="62" width="9" height="1" fill="#808080"/>
<rect x="909" y="142" width="4" height="1" fill="#808080"/>
<rect x="909" y="222" width="4" height="1" fill="#808080"/>
<rect x="909" y="302" width="4" height="1" fill="#808080"/>
<rect x="909" y="382" width="4" height="1" fill="#808080"/>
<rect x="909" y="462" width="4" height="1" fill="#808080"/>
<rect x="904" y="462" width="9" height="1" fill="#808080"/>
<rect x="945" y="62" width="1" height="401" fill="#808080"/>
<rect x="941" y="62" width="9" height="1" fill="#808080"/>
<rect x="946" y="95" width="4" height="1" fill="#808080"/>
<rect x="946" y="129" width="4" height="1" fill="#808080"/>
<rect x="946" y="162" width="4" height="1" fill="#808080"/>
<rect x="946" y="195" width="4" height="1" fill="#808080"/>
<rect x="946" y="229" width="4" height="1" fill="#808080"/>
<rect x="946" y="262" width="4" height="1" fill="#808080"/>
<rect x="946" y="295" width="4" height="1" fill="#808080"/>
<rect x="946" y="329" width="4" height="1" fill="#808080"/>
<rect x="946" y="362" width="4" height="1" fill="#808080"/>
<rect x="946" y="395" width="4" height="1" fill="#808080"/>
<rect x="946" y="429" width="4" height="1" fill="#808080"/>
<rect x="946" y="462" width="4" height="1" fill="#808080"/>
<rect x="941" y="462" width="9" height="1" fill="#808080"/>
<rect x="982" y="62" width="1" height="401" fill="#808080"/>
<rect x="978" y="62" width="9" height="1" fill="#808080"/>
<rect x="983" y="119" width="4" height="1" fill="#808080"/>
<rect x="983" y="176" width="4" height="1" fill="#808080"/>
<rect x="983" y="233" width="4" height="1" fill="#808080"/>
<rect x="983" y="291" width="4" height="1" fill="#808080"/>
<rect x="983" y="348" width="4" height="1" fill="#808080"/>
<rect x="983" y="405" width="4" height="1" fill="#808080"/>
<rect x="983" y="462" width="4" height="1" fill="#808080"/>
<rect x="978" y="462" width="9" height="1" fill="#808080"/>
</g>
<text transform="translate(25 51) scale(0.91 1)" text-anchor="middle" font-size="12" fill="#FF8040">°C</text>
<text transform="translate(58 51) scale(0.91 1)" text-anchor="middle" font-size="12" fill="#00FF00">hPa</text>
<text transform="translate(92 51) scale(0.91 1)" text-anchor="middle" font-size="12" fill="#000">km/h</text>
<text transform="translate(133.5 51) scale(0.91 1)" text-anchor="middle" font-size="12" fill="#E0E000">min</text>
<text transform="translate(876 51) scale(0.91 1)" text-anchor="middle" font-size="12" fill="#0000FF">%</text>
<text transform="translate(916.5 51) scale(0.91 1)" text-anchor="middle" font-size="12" fill="#00FFFF">l/m²</text>
<text transform="translate(947.5 51) scale(0.91 1)" text-anchor="middle" font-size="12" fill="#808080">°</text>
<text transform="translate(995.5 51) scale(0.91 1)" text-anchor="middle" font-size="12" fill="#FF8080">W/m²</text>
<text transform="translate(35 67) scale(0.91 1)" text-anchor="end" font-size="12" fill="#FF8040">35.0</text>
<text transform="translate(35 147) scale(0.91 1)" text-anchor="end" font-size="12" fill="#FF8040">30.0</text>
<text transform="translate(35 227) scale(0.91 1)" text-anchor="end" font-size="12" fill="#FF8040">25.0</text>
<text transform="translate(35 307) scale(0.91 1)" text-anchor="end" font-size="12" fill="#FF8040">20.0</text>
<text transform="translate(35 387) scale(0.91 1)" text-anchor="end" font-size="12" fill="#FF8040">15.0</text>
<text transform="translate(35 467) scale(0.91 1)" text-anchor="end" font-size="12" fill="#FF8040">10.0</text>
<text transform="translate(72 110) scale(0.91 1)" text-anchor="end" font-size="12" fill="#00FF00">1025</text>
<text transform="translate(72 181) scale(0.91 1)" text-anchor="end" font-size="12" fill="#00FF00">1020</text>
<text transform="translate(72 253) scale(0.91 1)" text-anchor="end" font-size="12" fill="#00FF00">1015</text>
<text transform="translate(72 324) scale(0.91 1)" text-anchor="end" font-size="12" fill="#00FF00">1010</text>
<text transform="translate(72 396) scale(0.91 1)" text-anchor="end" font-size="12" fill="#00FF00">1005</text>
<text transform="translate(72 467) scale(0.91 1)" text-anchor="end" font-size="12" fill="#00FF00">1000</text>
<text transform="translate(109 67) scale(0.91 1)" text-anchor="end" font-size="12" fill="#000">50.0</text>
<text transform="translate(109 107) scale(0.91 1)" text-anchor="end" font-size="12" fill="#000">45.0</text>
<text transform="translate(109 147) scale(0.91 1)" text-anchor="end" font-size="12" fill="#000">40.0</text>
<text transform="translate(109 187) scale(0.91 1)" text-anchor="end" font-size="12" fill="#000">35.0</text>
<text transform="translate(109 227) scale(0.91 1)" text-anchor="end" font-size="12" fill="#000">30.0</text>
<text transform="translate(109 267) scale(0.91 1)" text-anchor="end" font-size="12" fill="#000">25.0</text>
<text transform="translate(109 307) scale(0.91 1)" text-anchor="end" font-size="12" fill="#000">20.0</text>
<text transform="translate(109 347) scale(0.91 1)" text-anchor="end" font-size="12" fill="#000">15.0</text>
<text transform="translate(109 387) scale(0.91 1)" text-anchor="end" font-size="12" fill="#000">10.0</text>
<text transform="translate(109 427) scale(0.91 1)" text-anchor="end" font-size="12" fill="#000">5.0</text>
<text transform="translate(109 467) scale(0.91 1)" text-anchor="end" font-size="12" fill="#000">0.0</text>
<text transform="translate(146 67) scale(0.91 1)" text-anchor="end" font-size="12" fill="#E0E000">20</text>
<text transform="translate(146 167) scale(0.91 1)" text-anchor="end" font-size="12" fill="#E0E000">15</text>
<text transform="translate(146 267) scale(0.91 1)" text-anchor="end" font-size="12" fill="#E0E000">10</text>
<text transform="translate(146 367) scale(0.91 1)" text-anchor="end" font-size="12" fill="#E0E000">5</text>
<text transform="translate(146 467) scale(0.91 1)" text-anchor="end" font-size="12" fill="#E0E000">0</text>
<text transform="translate(877 67) scale(0.91 1)" text-anchor="start" font-size="12" fill="#0000FF">100</text>
<text transform="translate(877 107) scale(0.91 1)" text-anchor="start" font-size="12" fill="#0000FF">90</text>
<text transform="translate(877 147) scale(0.91 1)" text-anchor="start" font-size="12" fill="#0000FF">80</text>
<text transform="translate(877 187) scale(0.91 1)" text-anchor="start" font-size="12" fill="#0000FF">70</text>
<text transform="translate(877 227) scale(0.91 1)" text-anchor="start" font-size="12" fill="#0000FF">60</text>
<text transform="translate(877 267) scale(0.91 1)" text-anchor="start" font-size="12" fill="#0000FF">50</text>
<text transform="translate(877 307) scale(0.91 1)" text-anchor="start" font-size="12" fill="#0000FF">40</text>
<text transform="translate(877 347) scale(0.91 1)" text-anchor="start" font-size="12" fill="#0000FF">30</text>
<text transform="translate(877 387) scale(0.91 1)" text-anchor="start" font-size="12" fill="#0000FF">20</text>
<text transform="translate(877 427) scale(0.91 1)" text-anchor="start" font-size="12" fill="#0000FF">10</text>
<text transform="translate(877 467) scale(0.91 1)" text-anchor="start" font-size="12" fill="#0000FF">0</text>
<text transform="translate(914 67) scale(0.91 1)" text-anchor="start" font-size="12" fill="#00FFFF">5.0</text>
<text transform="translate(914 147) scale(0.91 1)" text-anchor="start" font-size="12" fill="#00FFFF">4.0</text>
<text transform="translate(914 227) scale(0.91 1)" text-anchor="start" font-size="12" fill="#00FFFF">3.0</text>
<text transform="translate(914 307) scale(0.91 1)" text-anchor="start" font-size="12" fill="#00FFFF">2.0</text>
<text transform="translate(914 387) scale(0.91 1)" text-anchor="start" font-size="12" fill="#00FFFF">1.0</text>
<text transform="translate(914 467) scale(0.91 1)" text-anchor="start" font-size="12" fill="#00FFFF">0.0</text>
<text transform="translate(951 67) scale(0.91 1)" text-anchor="start" font-size="12" fill="#808080">360 N</text>
<text transform="translate(951 100) scale(0.91 1)" text-anchor="start" font-size="12" fill="#808080">330</text>
<text transform="translate(951 134) scale(0.91 1)" text-anchor="start" font-size="12" fill="#808080">300</text>
<text transform="translate(951 167) scale(0.91 1)" text-anchor="start" font-size="12" fill="#808080">270 W</text>
<text transform="translate(951 200) scale(0.91 1)" text-anchor="start" font-size="12" fill="#808080">240</text>
<text transform="translate(951 234) scale(0.91 1)" text-anchor="start" font-size="12" fill="#808080">210</text>
<text transform="translate(951 267) scale(0.91 1)" text-anchor="start" font-size="12" fill="#808080">180 S</text>
<text transform="translate(951 300) scale(0.91 1)" text-anchor="start" font-size="12" fill="#808080">150</text>
<text transform="translate(951 334) scale(0.91 1)" text-anchor="start" font-size="12" fill="#808080">120</text>
<text transform="translate(951 367) scale(0.91 1)" text-anchor="start" font-size="12" fill="#808080">90  O</text>
<text transform="translate(951 400) scale(0.91 1)" text-anchor="start" font-size="12" fill="#808080">60</text>
<text transform="translate(951 434) scale(0.91 1)" text-anchor="start" font-size="12" fill="#808080">30</text>
<text transform="translate(951 467) scale(0.91 1)" text-anchor="start" font-size="12" fill="#808080">0   N</text>
<text transform="translate(988 67) scale(0.91 1)" text-anchor="start" font-size="12" fill="#FF8080">700</text>
<text transform="translate(988 124) scale(0.91 1)" text-anchor="start" font-size="12" fill="#FF8080">600</text>
<text transform="translate(988 181) scale(0.91 1)" text-anchor="start" font-size="12" fill="#FF8080">500</text>
<text transform="translate(988 238) scale(0.91 1)" text-anchor="start" font-size="12" fill="#FF8080">400</text>
<text transform="translate(988 296) scale(0.91 1)" text-anchor="start" font-size="12" fill="#FF8080">300</text>
<text transform="translate(988 353) scale(0.91 1)" text-anchor="start" font-size="12" fill="#FF8080">200</text>
<text transform="translate(988 410) scale(0.91 1)" text-anchor="start" font-size="12" fill="#FF8080">100</text>
<text transform="translate(988 467) scale(0.91 1)" text-anchor="start" font-size="12" fill="#FF8080">0</text>
<text transform="translate(152 481) scale(0.91 1)" text-anchor="middle" font-size="12" fill="#000">00:00</text>
<text transform="translate(212 481) scale(0.91 1)" text-anchor="middle" font-size="12" fill="#000">02:00</text>
<text transform="translate(272 481) scale(0.91 1)" text-anchor="middle" font-size="12" fill="#000">04:00</text>
<text transform="translate(332 481) scale(0.91 1)" text-anchor="middle" font-size="12" fill="#000">06:00</text>
<text transform="translate(392 481) scale(0.91 1)" text-anchor="middle" font-size="12" fill="#000">08:00</text>
<text transform="translate(452 481) scale(0.91 1)" text-anchor="middle" font-size="12" fill="#000">10:00</text>
<text transform="translate(512 481) scale(0.91 1)" text-anchor="middle" font-size="12" fill="#000">12:00</text>
<text transform="translate(572 481) scale(0.91 1)" text-anchor="middle" font-size="12" fill="#000">14:00</text>
<text transform="translate(632 481) scale(0.91 1)" text-anchor="middle" font-size="12" fill="#000">16:00</text>
<text transform="translate(692 481) scale(0.91 1)" text-anchor="middle" font-size="12" fill="#000">18:00</text>
<text transform="translate(752 481) scale(0.91 1)" text-anchor="middle" font-size="12" fill="#000">20:00</text>
<text transform="translate(812 481) scale(0.91 1)" text-anchor="middle" font-size="12" fill="#000">22:00</text>
<text transform="translate(872 481) scale(0.91 1)" text-anchor="middle" font-size="12" fill="#000">24:00</text>
<g shape-rendering="crispEdges">
<rect x="258" y="458" width="2" height="13" fill="#808080"/>
<rect x="354" y="458" width="2" height="13" fill="#E6E600"/>
<rect x="721" y="458" width="2" height="13" fill="#808080"/>
<rect x="733" y="458" width="2" height="13" fill="#E6E600"/>
</g>
<text transform="translate(11 492) scale(0.91 1)" text-anchor="start" font-size="12" fill="#000">12:38</text>
<path d="M40,491 L40,488 Q44.5,483 49,488 L49,491 Z" fill="#FFFF00"/>
<text transform="translate(266 492) scale(0.91 1)" text-anchor="start" font-size="12" fill="#000">03:35</text>
<rect x="254.5" y="482.5" width="5" height="5" fill="none" stroke="#3030E0" stroke-width="1" stroke-dasharray="1,1.5"/>
<path d="M261,484.5 L257.5,489.5 L259.5,489.5 L259.5,492.5 L262.5,492.5 L262.5,489.5 L264.5,489.5 Z" fill="#FFFF00" stroke="#000" stroke-width="0.6" stroke-dasharray="0,7,9"/>
<text transform="translate(322 492) scale(0.91 1)" text-anchor="start" font-size="12" fill="#000">06:47</text>
<circle cx="355.5" cy="487.5" r="3" fill="#FFFF00"/><circle cx="355.5" cy="487.5" r="5" fill="none" stroke="#FFFF80" stroke-width="1" stroke-dasharray="1.5,1.5"/>
<text transform="translate(701 492) scale(0.91 1)" text-anchor="start" font-size="12" fill="#000">19:26</text>
<rect x="731.5" y="485.5" width="5" height="5" fill="none" stroke="#FFFF40" stroke-width="1"/>
<text transform="translate(740 492) scale(0.91 1)" text-anchor="start" font-size="12" fill="#000">:02</text>
<rect x="1" y="501" width="1020" height="80" fill="#CCFAF6"/>
<g shape-rendering="crispEdges">
<rect x="87" y="501" width="1" height="80" fill="#FFFFFF"/>
<rect x="88" y="501" width="1" height="80" fill="#909090"/>
<rect x="204" y="501" width="1" height="80" fill="#FFFFFF"/>
<rect x="205" y="501" width="1" height="80" fill="#909090"/>
<rect x="322" y="501" width="1" height="80" fill="#FFFFFF"/>
<rect x="323" y="501" width="1" height="80" fill="#909090"/>
<rect x="440" y="501" width="1" height="80" fill="#FFFFFF"/>
<rect x="441" y="501" width="1" height="80" fill="#909090"/>
<rect x="558" y="501" width="1" height="80" fill="#FFFFFF"/>
<rect x="559" y="501" width="1" height="80" fill="#909090"/>
<rect x="676" y="501" width="1" height="80" fill="#FFFFFF"/>
<rect x="677" y="501" width="1" height="80" fill="#909090"/>
<rect x="794" y="501" width="1" height="80" fill="#FFFFFF"/>
<rect x="795" y="501" width="1" height="80" fill="#909090"/>
</g>
<text transform="translate(8 519) scale(0.98 1)" text-anchor="start" font-size="12" fill="#000" font-weight="bold">Sensor</text>
<text transform="translate(8 535) scale(0.98 1)" text-anchor="start" font-size="12" fill="#000" font-weight="bold">MinWert</text>
<text transform="translate(8 551) scale(0.98 1)" text-anchor="start" font-size="12" fill="#000" font-weight="bold">MaxWert</text>
<text transform="translate(8 567) scale(0.98 1)" text-anchor="start" font-size="12" fill="#000" font-weight="bold">Durchschnitt</text>
<text transform="translate(8 583) scale(0.98 1)" text-anchor="start" font-size="12" fill="#000" font-weight="bold">15.09.  23:59</text>
<text transform="translate(95 519) scale(0.98 1)" text-anchor="start" font-size="12" fill="#000" font-weight="bold">Temp. A.</text>
<text transform="translate(199 519) scale(0.98 1)" text-anchor="end" font-size="12" fill="#000" font-weight="bold">°C</text>
<text transform="translate(101 535) scale(0.91 1)" text-anchor="start" font-size="12" fill="#000">06:12</text>
<text transform="translate(199 535) scale(0.91 1)" text-anchor="end" font-size="12" fill="#000">11.5</text>
<text transform="translate(101 551) scale(0.91 1)" text-anchor="start" font-size="12" fill="#000">16:45</text>
<text transform="translate(199 551) scale(0.91 1)" text-anchor="end" font-size="12" fill="#000">31.1</text>
<text transform="translate(199 567) scale(0.91 1)" text-anchor="end" font-size="12" fill="#000">20.36</text>
<text transform="translate(199 583) scale(0.98 1)" text-anchor="end" font-size="12" fill="#000" font-weight="bold">15.9</text>
<text transform="translate(212 519) scale(0.98 1)" text-anchor="start" font-size="12" fill="#000" font-weight="bold">Feuchte A.</text>
<text transform="translate(316 519) scale(0.98 1)" text-anchor="end" font-size="12" fill="#000" font-weight="bold">%</text>
<text transform="translate(218 535) scale(0.91 1)" text-anchor="start" font-size="12" fill="#000">17:15</text>
<text transform="translate(316 535) scale(0.91 1)" text-anchor="end" font-size="12" fill="#000">39</text>
<text transform="translate(218 551) scale(0.91 1)" text-anchor="start" font-size="12" fill="#000">07:53</text>
<text transform="translate(316 551) scale(0.91 1)" text-anchor="end" font-size="12" fill="#000">94</text>
<text transform="translate(316 567) scale(0.91 1)" text-anchor="end" font-size="12" fill="#000">72</text>
<text transform="translate(212 583) scale(0.91 1)" text-anchor="start" font-size="12" fill="#000">11.66 g/m³</text>
<text transform="translate(316 583) scale(0.98 1)" text-anchor="end" font-size="12" fill="#000" font-weight="bold">86</text>
<text transform="translate(330 519) scale(0.98 1)" text-anchor="start" font-size="12" fill="#000" font-weight="bold">Luftdruck</text>
<text transform="translate(434 519) scale(0.98 1)" text-anchor="end" font-size="12" fill="#000" font-weight="bold">hPa</text>
<text transform="translate(336 535) scale(0.91 1)" text-anchor="start" font-size="12" fill="#000">19:27</text>
<text transform="translate(434 535) scale(0.91 1)" text-anchor="end" font-size="12" fill="#000">1017.6</text>
<text transform="translate(336 551) scale(0.91 1)" text-anchor="start" font-size="12" fill="#000">00:13</text>
<text transform="translate(434 551) scale(0.91 1)" text-anchor="end" font-size="12" fill="#000">1023.9</text>
<text transform="translate(330 567) scale(0.91 1)" text-anchor="start" font-size="12" fill="#000">^0.8hPa/h</text>
<text transform="translate(434 567) scale(0.91 1)" text-anchor="end" font-size="12" fill="#000">1020.5</text>
<text transform="translate(330 583) scale(0.91 1)" text-anchor="start" font-size="12" fill="#000">veränderlich</text>
<text transform="translate(434 583) scale(0.98 1)" text-anchor="end" font-size="12" fill="#000" font-weight="bold">1018.0</text>
<text transform="translate(448 519) scale(0.98 1)" text-anchor="start" font-size="12" fill="#000" font-weight="bold">Wind</text>
<text transform="translate(552 519) scale(0.98 1)" text-anchor="end" font-size="12" fill="#000" font-weight="bold">km/h</text>
<text transform="translate(448 535) scale(0.91 1)" text-anchor="start" font-size="12" fill="#000">Ø 10 min.</text>
<text transform="translate(552 535) scale(0.91 1)" text-anchor="end" font-size="12" fill="#000">0.7</text>
<text transform="translate(454 551) scale(0.91 1)" text-anchor="start" font-size="12" fill="#000">13:53</text>
<text transform="translate(552 551) scale(0.91 1)" text-anchor="end" font-size="12" fill="#000">SO 14.8</text>
<text transform="translate(454 567) scale(0.91 1)" text-anchor="start" font-size="12" fill="#000">70.4 km</text>
<text transform="translate(552 567) scale(0.91 1)" text-anchor="end" font-size="12" fill="#000">2.9</text>
<text transform="translate(454 583) scale(0.91 1)" text-anchor="start" font-size="12" fill="#000">0 Bft W</text>
<text transform="translate(552 583) scale(0.98 1)" text-anchor="end" font-size="12" fill="#000" font-weight="bold">0.0</text>
<text transform="translate(566 519) scale(0.98 1)" text-anchor="start" font-size="12" fill="#000" font-weight="bold">Richtung</text>
<text transform="translate(572 535) scale(0.91 1)" text-anchor="start" font-size="12" fill="#000">03:16</text>
<text transform="translate(670 535) scale(0.91 1)" text-anchor="end" font-size="12" fill="#000">N</text>
<text transform="translate(572 551) scale(0.91 1)" text-anchor="start" font-size="12" fill="#000">23:30</text>
<text transform="translate(670 551) scale(0.91 1)" text-anchor="end" font-size="12" fill="#000">W</text>
<text transform="translate(670 567) scale(0.91 1)" text-anchor="end" font-size="12" fill="#000">O-SO</text>
<text transform="translate(570 583) scale(0.91 1)" text-anchor="start" font-size="12" fill="#000">267 °</text>
<text transform="translate(670 583) scale(0.98 1)" text-anchor="end" font-size="12" fill="#000" font-weight="bold">W</text>
<text transform="translate(684 519) scale(0.98 1)" text-anchor="start" font-size="12" fill="#000" font-weight="bold">Regen</text>
<text transform="translate(788 519) scale(0.98 1)" text-anchor="end" font-size="12" fill="#000" font-weight="bold">l/m²</text>
<text transform="translate(684 535) scale(0.91 1)" text-anchor="start" font-size="12" fill="#000">0 min.</text>
<text transform="translate(690 551) scale(0.91 1)" text-anchor="start" font-size="12" fill="#000">23:59</text>
<text transform="translate(788 551) scale(0.91 1)" text-anchor="end" font-size="12" fill="#000">0.0</text>
<text transform="translate(684 567) scale(0.91 1)" text-anchor="start" font-size="12" fill="#000">Gesamt:</text>
<text transform="translate(788 567) scale(0.91 1)" text-anchor="end" font-size="12" fill="#000">0.0</text>
<text transform="translate(688 583) scale(0.91 1)" text-anchor="start" font-size="12" fill="#000">0.0 l/m²</text>
<text transform="translate(788 583) scale(0.98 1)" text-anchor="end" font-size="12" fill="#000" font-weight="bold">0.0</text>
<text transform="translate(921 519) scale(0.98 1)" text-anchor="start" font-size="12" fill="#000" font-weight="bold">PMV+2:22</text>
<text transform="translate(921 535) scale(0.91 1)" text-anchor="start" font-size="12" fill="#000">WC 15.9 °C</text>
<text transform="translate(921 551) scale(0.91 1)" text-anchor="start" font-size="12" fill="#000">TP 13.6 °C</text>
<text transform="translate(921 567) scale(0.91 1)" text-anchor="start" font-size="12" fill="#000">0.0hPa/3h</text>
<text transform="translate(921 583) scale(0.91 1)" text-anchor="start" font-size="12" fill="#000">0.1hPa/1h</text>
</svg>
</body></html>
